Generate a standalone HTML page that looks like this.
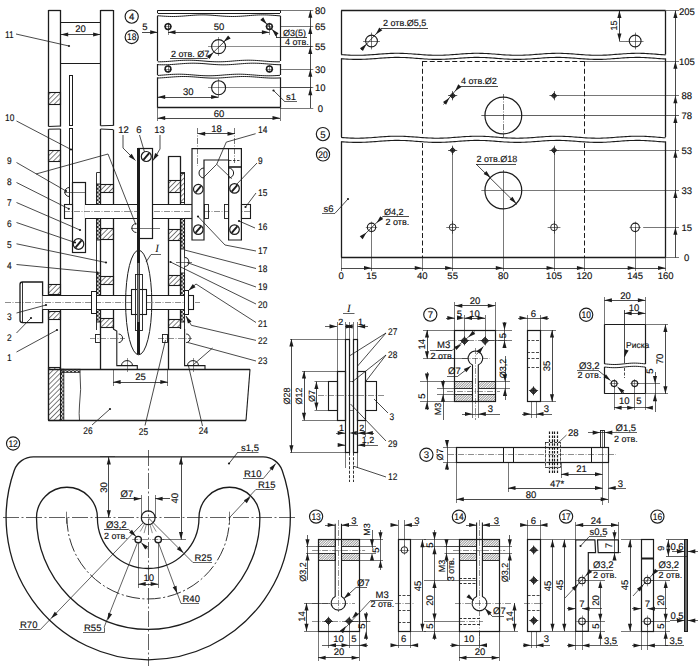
<!DOCTYPE html>
<html><head><meta charset="utf-8"><style>
html,body{margin:0;padding:0;background:#fff;}
svg{display:block;font-family:"Liberation Sans",sans-serif;text-rendering:geometricPrecision;}
</style></head><body>
<svg width="700" height="668" viewBox="0 0 700 668">
<defs>
<pattern id="hat" patternUnits="userSpaceOnUse" width="3.6" height="3.6" patternTransform="rotate(45)"><line x1="0" y1="0" x2="0" y2="3.6" stroke="#2a2a2a" stroke-width="1.2"/></pattern>
<pattern id="hat2" patternUnits="userSpaceOnUse" width="1.75" height="1.75" patternTransform="rotate(45)"><line x1="0" y1="0" x2="0" y2="1.75" stroke="#2a2a2a" stroke-width="0.85"/></pattern>
<pattern id="kn" patternUnits="userSpaceOnUse" width="2.6" height="2.6"><rect x="0.3" y="0.3" width="1.3" height="1.3" fill="#1c1c1c"/></pattern>
</defs>
<rect width="700" height="668" fill="#fff"/>
<line x1="48.5" y1="10" x2="48.5" y2="126.5" stroke="#1c1c1c" stroke-width="1.3"/>
<line x1="60.5" y1="10" x2="60.5" y2="126.5" stroke="#1c1c1c" stroke-width="1.3"/>
<line x1="48.5" y1="10.5" x2="60.7" y2="10.5" stroke="#1c1c1c" stroke-width="1.3"/>
<line x1="48.5" y1="126.5" x2="60.7" y2="126" stroke="#1c1c1c" stroke-width="1.0"/>
<line x1="48.5" y1="129.2" x2="60.7" y2="129" stroke="#1c1c1c" stroke-width="1.0"/>
<line x1="48.5" y1="129.2" x2="48.5" y2="420" stroke="#1c1c1c" stroke-width="1.3"/>
<line x1="60.5" y1="129" x2="60.5" y2="369.3" stroke="#1c1c1c" stroke-width="1.3"/>
<rect x="48.5" y="92.5" width="12" height="12" fill="url(#hat)" stroke="#1c1c1c" stroke-width="1.1"/>
<rect x="48.5" y="150.5" width="12" height="11" fill="url(#hat)" stroke="#1c1c1c" stroke-width="1.1"/>
<rect x="48.5" y="284.5" width="12" height="10" fill="url(#hat)" stroke="#1c1c1c" stroke-width="1.1"/>
<rect x="48.5" y="311.5" width="12" height="8" fill="url(#hat)" stroke="#1c1c1c" stroke-width="1.1"/>
<line x1="100.5" y1="10" x2="100.5" y2="125.8" stroke="#1c1c1c" stroke-width="1.3"/>
<line x1="113.5" y1="10" x2="113.5" y2="125.8" stroke="#1c1c1c" stroke-width="1.3"/>
<line x1="100.6" y1="10.5" x2="113.1" y2="10.5" stroke="#1c1c1c" stroke-width="1.3"/>
<line x1="100.6" y1="125.8" x2="113.1" y2="125.4" stroke="#1c1c1c" stroke-width="1.0"/>
<line x1="100.6" y1="129" x2="113.1" y2="129.6" stroke="#1c1c1c" stroke-width="1.0"/>
<line x1="100.5" y1="129" x2="100.5" y2="369.3" stroke="#1c1c1c" stroke-width="1.3"/>
<line x1="113.5" y1="129.6" x2="113.5" y2="329" stroke="#1c1c1c" stroke-width="1.3"/>
<rect x="100.5" y="184.5" width="13" height="8" fill="url(#hat)" stroke="#1c1c1c" stroke-width="1.1"/>
<rect x="100.5" y="228.5" width="13" height="11" fill="url(#hat)" stroke="#1c1c1c" stroke-width="1.1"/>
<rect x="100.5" y="276.5" width="13" height="8" fill="url(#hat)" stroke="#1c1c1c" stroke-width="1.1"/>
<rect x="100.5" y="318.5" width="13" height="9" fill="url(#hat)" stroke="#1c1c1c" stroke-width="1.1"/>
<line x1="60.7" y1="22.5" x2="100.6" y2="22.5" stroke="#1c1c1c" stroke-width="1.2"/>
<line x1="60.7" y1="63.5" x2="100.6" y2="63.5" stroke="#1c1c1c" stroke-width="1.2"/>
<line x1="60.7" y1="34.5" x2="100.6" y2="34.5" stroke="#1c1c1c" stroke-width="0.8"/>
<polygon points="60.7,34.5 68.2,32.45 68.2,36.55" fill="#1c1c1c"/>
<polygon points="100.6,34.5 93.1,36.55 93.1,32.45" fill="#1c1c1c"/>
<text x="0" y="0" font-size="9.5" text-anchor="middle" fill="#111" stroke="#111" stroke-width="0.15" transform="translate(80.5 32)">20</text>
<text x="0" y="0" font-size="9.7" text-anchor="start" fill="#111" stroke="#111" stroke-width="0.15" transform="translate(5 37.5) scale(0.86 1)">11</text>
<polyline points="16,34 69,46" fill="none" stroke="#1c1c1c" stroke-width="0.8"/>
<circle cx="69" cy="46" r="1.1" fill="#1c1c1c"/>
<rect x="69.5" y="75.5" width="3" height="50" fill="none" stroke="#1c1c1c" stroke-width="1.0"/>
<rect x="69.5" y="128.5" width="3" height="77" fill="none" stroke="#1c1c1c" stroke-width="1.0"/>
<text x="0" y="0" font-size="9.7" text-anchor="start" fill="#111" stroke="#111" stroke-width="0.15" transform="translate(5 120.5) scale(0.86 1)">10</text>
<polyline points="16.5,121 71,149.5" fill="none" stroke="#1c1c1c" stroke-width="0.8"/>
<circle cx="71" cy="149.5" r="1.1" fill="#1c1c1c"/>
<line x1="96.5" y1="172.5" x2="96.5" y2="330" stroke="#1c1c1c" stroke-width="0.9"/>
<rect x="96.7" y="184" width="3.8" height="20.5" fill="none" stroke="#1c1c1c" stroke-width="0.9"/>
<path d="M96.7,184h1.9v1.9h-1.9zM98.6,185.9h1.9v1.9h-1.9zM96.7,187.8h1.9v1.9h-1.9zM98.6,189.7h1.9v1.9h-1.9zM96.7,191.6h1.9v1.9h-1.9zM98.6,193.5h1.9v1.9h-1.9zM96.7,195.4h1.9v1.9h-1.9zM98.6,197.3h1.9v1.9h-1.9zM96.7,199.2h1.9v1.9h-1.9zM98.6,201.1h1.9v1.9h-1.9zM96.7,203h1.9v1.5h-1.9z" fill="#2a2a2a"/>
<rect x="96.7" y="218.5" width="3.8" height="21.5" fill="none" stroke="#1c1c1c" stroke-width="0.9"/>
<path d="M96.7,218.5h1.9v1.9h-1.9zM98.6,220.4h1.9v1.9h-1.9zM96.7,222.3h1.9v1.9h-1.9zM98.6,224.2h1.9v1.9h-1.9zM96.7,226.1h1.9v1.9h-1.9zM98.6,228h1.9v1.9h-1.9zM96.7,229.9h1.9v1.9h-1.9zM98.6,231.8h1.9v1.9h-1.9zM96.7,233.7h1.9v1.9h-1.9zM98.6,235.6h1.9v1.9h-1.9zM96.7,237.5h1.9v1.9h-1.9zM98.6,239.4h1.9v0.6h-1.9z" fill="#2a2a2a"/>
<line x1="96.7" y1="172.5" x2="100.6" y2="172.5" stroke="#1c1c1c" stroke-width="0.9"/>
<rect x="96.7" y="273" width="3.8" height="49" fill="none" stroke="#1c1c1c" stroke-width="0.9"/>
<path d="M96.7,273h1.9v1.9h-1.9zM98.6,274.9h1.9v1.9h-1.9zM96.7,276.8h1.9v1.9h-1.9zM98.6,278.7h1.9v1.9h-1.9zM96.7,280.6h1.9v1.9h-1.9zM98.6,282.5h1.9v1.9h-1.9zM96.7,284.4h1.9v1.9h-1.9zM98.6,286.3h1.9v1.9h-1.9zM96.7,288.2h1.9v1.9h-1.9zM98.6,290.1h1.9v1.9h-1.9zM96.7,292h1.9v1.9h-1.9zM98.6,293.9h1.9v1.9h-1.9zM96.7,295.8h1.9v1.9h-1.9zM98.6,297.7h1.9v1.9h-1.9zM96.7,299.6h1.9v1.9h-1.9zM98.6,301.5h1.9v1.9h-1.9zM96.7,303.4h1.9v1.9h-1.9zM98.6,305.3h1.9v1.9h-1.9zM96.7,307.2h1.9v1.9h-1.9zM98.6,309.1h1.9v1.9h-1.9zM96.7,311h1.9v1.9h-1.9zM98.6,312.9h1.9v1.9h-1.9zM96.7,314.8h1.9v1.9h-1.9zM98.6,316.7h1.9v1.9h-1.9zM96.7,318.6h1.9v1.9h-1.9zM98.6,320.5h1.9v1.5h-1.9z" fill="#2a2a2a"/>
<rect x="72.5" y="182.5" width="13" height="70" fill="#fff" stroke="#1c1c1c" stroke-width="1.2"/>
<rect x="64.5" y="204.5" width="8" height="14" fill="#fff" stroke="#1c1c1c" stroke-width="1.1"/>
<circle cx="78.5" cy="244" r="5.3" fill="#fff" stroke="#1c1c1c" stroke-width="1.2"/>
<line x1="75.43" y1="247.65" x2="81.57" y2="240.35" stroke="#1c1c1c" stroke-width="1.9"/>
<path d="M69.3,187.5 A4.5,4.5 0 0 0 69.3,196.5" fill="none" stroke="#1c1c1c" stroke-width="1.0"/>
<line x1="64" y1="192.5" x2="85" y2="192.5" stroke="#1c1c1c" stroke-width="0.6"/>
<line x1="168.2" y1="156.5" x2="180.8" y2="156.5" stroke="#1c1c1c" stroke-width="1.2"/>
<line x1="168.5" y1="156.3" x2="168.5" y2="369.3" stroke="#1c1c1c" stroke-width="1.3"/>
<line x1="180.5" y1="156.3" x2="180.5" y2="329" stroke="#1c1c1c" stroke-width="1.3"/>
<rect x="168.5" y="180.5" width="12" height="12" fill="url(#hat)" stroke="#1c1c1c" stroke-width="1.1"/>
<rect x="168.5" y="229.5" width="12" height="11" fill="url(#hat)" stroke="#1c1c1c" stroke-width="1.1"/>
<rect x="168.5" y="275.5" width="12" height="10" fill="url(#hat)" stroke="#1c1c1c" stroke-width="1.1"/>
<rect x="168.5" y="319.5" width="12" height="8" fill="url(#hat)" stroke="#1c1c1c" stroke-width="1.1"/>
<line x1="180.9" y1="172.5" x2="185" y2="172.5" stroke="#1c1c1c" stroke-width="0.9"/>
<rect x="180.5" y="173.5" width="4" height="29" fill="url(#hat)" stroke="#1c1c1c" stroke-width="0.9"/>
<rect x="180.8" y="218" width="3.8" height="31" fill="none" stroke="#1c1c1c" stroke-width="0.9"/>
<path d="M180.8,218h1.9v1.9h-1.9zM182.7,219.9h1.9v1.9h-1.9zM180.8,221.8h1.9v1.9h-1.9zM182.7,223.7h1.9v1.9h-1.9zM180.8,225.6h1.9v1.9h-1.9zM182.7,227.5h1.9v1.9h-1.9zM180.8,229.4h1.9v1.9h-1.9zM182.7,231.3h1.9v1.9h-1.9zM180.8,233.2h1.9v1.9h-1.9zM182.7,235.1h1.9v1.9h-1.9zM180.8,237h1.9v1.9h-1.9zM182.7,238.9h1.9v1.9h-1.9zM180.8,240.8h1.9v1.9h-1.9zM182.7,242.7h1.9v1.9h-1.9zM180.8,244.6h1.9v1.9h-1.9zM182.7,246.5h1.9v1.9h-1.9zM180.8,248.4h1.9v0.6h-1.9z" fill="#2a2a2a"/>
<rect x="180.8" y="273" width="3.8" height="49" fill="none" stroke="#1c1c1c" stroke-width="0.9"/>
<path d="M180.8,273h1.9v1.9h-1.9zM182.7,274.9h1.9v1.9h-1.9zM180.8,276.8h1.9v1.9h-1.9zM182.7,278.7h1.9v1.9h-1.9zM180.8,280.6h1.9v1.9h-1.9zM182.7,282.5h1.9v1.9h-1.9zM180.8,284.4h1.9v1.9h-1.9zM182.7,286.3h1.9v1.9h-1.9zM180.8,288.2h1.9v1.9h-1.9zM182.7,290.1h1.9v1.9h-1.9zM180.8,292h1.9v1.9h-1.9zM182.7,293.9h1.9v1.9h-1.9zM180.8,295.8h1.9v1.9h-1.9zM182.7,297.7h1.9v1.9h-1.9zM180.8,299.6h1.9v1.9h-1.9zM182.7,301.5h1.9v1.9h-1.9zM180.8,303.4h1.9v1.9h-1.9zM182.7,305.3h1.9v1.9h-1.9zM180.8,307.2h1.9v1.9h-1.9zM182.7,309.1h1.9v1.9h-1.9zM180.8,311h1.9v1.9h-1.9zM182.7,312.9h1.9v1.9h-1.9zM180.8,314.8h1.9v1.9h-1.9zM182.7,316.7h1.9v1.9h-1.9zM180.8,318.6h1.9v1.9h-1.9zM182.7,320.5h1.9v1.5h-1.9z" fill="#2a2a2a"/>
<line x1="184.5" y1="172.5" x2="184.5" y2="330" stroke="#1c1c1c" stroke-width="0.9"/>
<rect x="85" y="204.5" width="107" height="14" fill="#fff" stroke="none"/>
<line x1="85" y1="204.5" x2="192" y2="204.5" stroke="#1c1c1c" stroke-width="1.2"/>
<line x1="85" y1="218.5" x2="192" y2="218.5" stroke="#1c1c1c" stroke-width="1.2"/>
<line x1="64" y1="211.5" x2="250" y2="211.5" stroke="#1c1c1c" stroke-width="0.5" stroke-dasharray="6 1.5 1 1.5"/>
<rect x="138.5" y="148.5" width="14" height="90" fill="#fff" stroke="#1c1c1c" stroke-width="1.2"/>
<circle cx="146.3" cy="156.5" r="5" fill="#fff" stroke="#1c1c1c" stroke-width="1.2"/>
<line x1="143.41" y1="159.95" x2="149.19" y2="153.05" stroke="#1c1c1c" stroke-width="1.9"/>
<rect x="137" y="148" width="3" height="142" fill="#1c1c1c"/>
<path d="M136.4,223.5 A4.5,4.5 0 0 0 136.4,232.5" fill="none" stroke="#1c1c1c" stroke-width="1.0"/>
<line x1="131" y1="228.5" x2="160" y2="228.5" stroke="#1c1c1c" stroke-width="0.6"/>
<path d="M192,240 L192,148.6 L241.4,148.6 L241.4,240 L228.6,240 L228.6,160 L204,160 L204,240 Z" fill="#fff" stroke="#1c1c1c" stroke-width="1.2"/>
<line x1="228.5" y1="148.6" x2="228.5" y2="160" stroke="#1c1c1c" stroke-width="0.9"/>
<line x1="229" y1="160.5" x2="241" y2="160.5" stroke="#1c1c1c" stroke-width="0.8" stroke-dasharray="2.5 1.5"/>
<circle cx="198.3" cy="189.2" r="4.8" fill="#fff" stroke="#1c1c1c" stroke-width="1.2"/>
<line x1="195.52" y1="192.51" x2="201.08" y2="185.89" stroke="#1c1c1c" stroke-width="1.9"/>
<circle cx="198.3" cy="229.6" r="4.8" fill="#fff" stroke="#1c1c1c" stroke-width="1.2"/>
<line x1="195.52" y1="232.91" x2="201.08" y2="226.29" stroke="#1c1c1c" stroke-width="1.9"/>
<circle cx="234.5" cy="188.4" r="4.8" fill="#fff" stroke="#1c1c1c" stroke-width="1.2"/>
<line x1="231.72" y1="191.71" x2="237.28" y2="185.09" stroke="#1c1c1c" stroke-width="1.9"/>
<circle cx="234.5" cy="229.6" r="4.8" fill="#fff" stroke="#1c1c1c" stroke-width="1.2"/>
<line x1="231.72" y1="232.91" x2="237.28" y2="226.29" stroke="#1c1c1c" stroke-width="1.9"/>
<path d="M204,168 A5,5 0 0 0 204,178" fill="none" stroke="#1c1c1c" stroke-width="1.0"/>
<path d="M228.6,168 A5,5 0 0 1 228.6,178" fill="none" stroke="#1c1c1c" stroke-width="1.0"/>
<rect x="204.5" y="204.5" width="4" height="14" fill="none" stroke="#1c1c1c" stroke-width="0.9"/>
<rect x="224.5" y="204.5" width="4" height="14" fill="none" stroke="#1c1c1c" stroke-width="0.9"/>
<rect x="241.5" y="204.5" width="9" height="14" fill="none" stroke="#1c1c1c" stroke-width="1.1"/>
<line x1="185" y1="204.5" x2="192" y2="204.5" stroke="#1c1c1c" stroke-width="1.1"/>
<line x1="185" y1="218.5" x2="192" y2="218.5" stroke="#1c1c1c" stroke-width="1.1"/>
<line x1="197.5" y1="128" x2="197.5" y2="166" stroke="#1c1c1c" stroke-width="0.6" stroke-dasharray="6 1.5 1 1.5"/>
<line x1="234.5" y1="128" x2="234.5" y2="163" stroke="#1c1c1c" stroke-width="0.6" stroke-dasharray="6 1.5 1 1.5"/>
<line x1="228.6" y1="166.5" x2="241.4" y2="166.5" stroke="#1c1c1c" stroke-width="0.8"/>
<line x1="228.6" y1="167.5" x2="241.4" y2="167.5" stroke="#1c1c1c" stroke-width="0.8"/>
<line x1="197.7" y1="133.5" x2="235" y2="133.5" stroke="#1c1c1c" stroke-width="0.8"/>
<polygon points="197.7,133.7 205.2,131.65 205.2,135.75" fill="#1c1c1c"/>
<polygon points="235,133.7 227.5,135.75 227.5,131.65" fill="#1c1c1c"/>
<text x="0" y="0" font-size="9.5" text-anchor="middle" fill="#111" stroke="#111" stroke-width="0.15" transform="translate(216.5 131.5)">18</text>
<path d="M42.6,282 L22.5,282 Q20,282 20,284.5 L20,320 Q20,322.6 22.5,322.6 L42.6,322.6 Z" fill="#fff" stroke="#1c1c1c" stroke-width="1.3"/>
<line x1="22.5" y1="282" x2="22.5" y2="322.6" stroke="#1c1c1c" stroke-width="0.9"/>
<rect x="42.5" y="295.5" width="145.5" height="14" fill="#fff" stroke="none"/>
<line x1="42.5" y1="295.5" x2="188" y2="295.5" stroke="#1c1c1c" stroke-width="1.2"/>
<line x1="42.5" y1="309.5" x2="188" y2="309.5" stroke="#1c1c1c" stroke-width="1.2"/>
<line x1="5" y1="302.5" x2="200" y2="302.5" stroke="#1c1c1c" stroke-width="0.5" stroke-dasharray="6 1.5 1 1.5"/>
<rect x="91.5" y="291.5" width="5" height="22" fill="#fff" stroke="#1c1c1c" stroke-width="1.0"/>
<rect x="184.5" y="290.5" width="4" height="24" fill="#fff" stroke="#1c1c1c" stroke-width="1.0"/>
<rect x="188.5" y="295.5" width="5" height="14" fill="#fff" stroke="#1c1c1c" stroke-width="1.1"/>
<ellipse cx="138.7" cy="302.5" rx="13.1" ry="52.3" fill="none" stroke="#1c1c1c" stroke-width="1.0"/>
<rect x="131.5" y="289.5" width="15" height="25" fill="#fff" stroke="#1c1c1c" stroke-width="1.1"/>
<rect x="137" y="250.5" width="3" height="104" fill="#1c1c1c"/>
<rect x="137.6" y="263" width="1.7" height="59" fill="#8a8a8a"/>
<rect x="135.5" y="274.5" width="7" height="56" fill="none" stroke="#1c1c1c" stroke-width="0.9"/>
<path d="M184.6,257.5 A4.3,4.5 0 0 1 184.6,266.5" fill="#fff" stroke="#1c1c1c" stroke-width="1.1"/>
<line x1="176" y1="262.5" x2="192" y2="262.5" stroke="#1c1c1c" stroke-width="0.6"/>
<path d="M113.1,329 L116.8,331 L116.8,365.6 L137.3,365.6 L137.3,369.3" fill="none" stroke="#1c1c1c" stroke-width="1.1"/>
<path d="M184.6,329 L184.6,365.6 L205,365.6 L205,369.3" fill="none" stroke="#1c1c1c" stroke-width="1.1"/>
<rect x="95.5" y="334.5" width="5" height="8" fill="none" stroke="#1c1c1c" stroke-width="0.9"/>
<path d="M118.6,334 A4,4.3 0 0 1 118.6,342.6" fill="none" stroke="#1c1c1c" stroke-width="1.0"/>
<rect x="162.5" y="334.5" width="5" height="8" fill="none" stroke="#1c1c1c" stroke-width="0.9"/>
<path d="M186.2,334 A4,4.3 0 0 1 186.2,342.6" fill="none" stroke="#1c1c1c" stroke-width="1.0"/>
<line x1="90" y1="338.5" x2="125" y2="338.5" stroke="#1c1c1c" stroke-width="0.5" stroke-dasharray="6 1.5 1 1.5"/>
<line x1="158" y1="338.5" x2="192" y2="338.5" stroke="#1c1c1c" stroke-width="0.5" stroke-dasharray="6 1.5 1 1.5"/>
<path d="M121.5,365.6 A5.5,5 0 0 1 132.5,365.6" fill="none" stroke="#1c1c1c" stroke-width="1.0"/>
<path d="M187.5,365.6 A5.5,5 0 0 1 198.5,365.6" fill="none" stroke="#1c1c1c" stroke-width="1.0"/>
<line x1="127.5" y1="358" x2="127.5" y2="372" stroke="#1c1c1c" stroke-width="0.5"/>
<line x1="193.5" y1="358" x2="193.5" y2="372" stroke="#1c1c1c" stroke-width="0.5"/>
<line x1="48.5" y1="369.5" x2="250" y2="369.5" stroke="#1c1c1c" stroke-width="1.3"/>
<line x1="48.5" y1="420.5" x2="246" y2="420.5" stroke="#1c1c1c" stroke-width="1.3"/>
<line x1="250" y1="369.3" x2="246" y2="420.5" stroke="#1c1c1c" stroke-width="1.1"/>
<rect x="48.5" y="367.5" width="12" height="53" fill="url(#hat)" stroke="#1c1c1c" stroke-width="1.1"/>
<rect x="60.7" y="369.3" width="3.1" height="51.2" fill="none" stroke="#1c1c1c" stroke-width="0.9"/>
<path d="M60.7,369.3h1.55v1.9h-1.55zM62.25,371.2h1.55v1.9h-1.55zM60.7,373.1h1.55v1.9h-1.55zM62.25,375h1.55v1.9h-1.55zM60.7,376.9h1.55v1.9h-1.55zM62.25,378.8h1.55v1.9h-1.55zM60.7,380.7h1.55v1.9h-1.55zM62.25,382.6h1.55v1.9h-1.55zM60.7,384.5h1.55v1.9h-1.55zM62.25,386.4h1.55v1.9h-1.55zM60.7,388.3h1.55v1.9h-1.55zM62.25,390.2h1.55v1.9h-1.55zM60.7,392.1h1.55v1.9h-1.55zM62.25,394h1.55v1.9h-1.55zM60.7,395.9h1.55v1.9h-1.55zM62.25,397.8h1.55v1.9h-1.55zM60.7,399.7h1.55v1.9h-1.55zM62.25,401.6h1.55v1.9h-1.55zM60.7,403.5h1.55v1.9h-1.55zM62.25,405.4h1.55v1.9h-1.55zM60.7,407.3h1.55v1.9h-1.55zM62.25,409.2h1.55v1.9h-1.55zM60.7,411.1h1.55v1.9h-1.55zM62.25,413h1.55v1.9h-1.55zM60.7,414.9h1.55v1.9h-1.55zM62.25,416.8h1.55v1.9h-1.55zM60.7,418.7h1.55v1.8h-1.55z" fill="#2a2a2a"/>
<rect x="60.7" y="369.3" width="19.3" height="3" fill="none" stroke="#1c1c1c" stroke-width="0.9"/>
<path d="M60.7,369.3h1.9v1.5h-1.9zM62.6,370.8h1.9v1.5h-1.9zM64.5,369.3h1.9v1.5h-1.9zM66.4,370.8h1.9v1.5h-1.9zM68.3,369.3h1.9v1.5h-1.9zM70.2,370.8h1.9v1.5h-1.9zM72.1,369.3h1.9v1.5h-1.9zM74,370.8h1.9v1.5h-1.9zM75.9,369.3h1.9v1.5h-1.9zM77.8,370.8h1.9v1.5h-1.9z" fill="#2a2a2a"/>
<path d="M80,372.5 Q81.5,390 79.5,405 Q78.8,414 79.5,420.5" fill="none" stroke="#1c1c1c" stroke-width="0.8"/>
<line x1="113.5" y1="369.3" x2="113.5" y2="386" stroke="#1c1c1c" stroke-width="0.6"/>
<line x1="167.5" y1="369.3" x2="167.5" y2="386" stroke="#1c1c1c" stroke-width="0.6"/>
<line x1="113.1" y1="382.5" x2="167.8" y2="382.5" stroke="#1c1c1c" stroke-width="0.8"/>
<polygon points="113.1,382 120.6,379.95 120.6,384.05" fill="#1c1c1c"/>
<polygon points="167.8,382 160.3,384.05 160.3,379.95" fill="#1c1c1c"/>
<text x="0" y="0" font-size="9.5" text-anchor="middle" fill="#111" stroke="#111" stroke-width="0.15" transform="translate(140.5 380)">25</text>
<text x="0" y="0" font-size="9.7" text-anchor="start" fill="#111" stroke="#111" stroke-width="0.15" transform="translate(7 164) scale(0.86 1)">9</text>
<polyline points="16.5,162.5 66,191" fill="none" stroke="#1c1c1c" stroke-width="0.8"/>
<circle cx="66" cy="191" r="1.1" fill="#1c1c1c"/>
<text x="0" y="0" font-size="9.7" text-anchor="start" fill="#111" stroke="#111" stroke-width="0.15" transform="translate(7 185) scale(0.86 1)">8</text>
<polyline points="16.5,182.5 68.8,208.8" fill="none" stroke="#1c1c1c" stroke-width="0.8"/>
<circle cx="68.8" cy="208.8" r="1.1" fill="#1c1c1c"/>
<text x="0" y="0" font-size="9.7" text-anchor="start" fill="#111" stroke="#111" stroke-width="0.15" transform="translate(7 206) scale(0.86 1)">7</text>
<polyline points="16.5,202.5 80,230" fill="none" stroke="#1c1c1c" stroke-width="0.8"/>
<circle cx="80" cy="230" r="1.1" fill="#1c1c1c"/>
<text x="0" y="0" font-size="9.7" text-anchor="start" fill="#111" stroke="#111" stroke-width="0.15" transform="translate(7 227) scale(0.86 1)">6</text>
<polyline points="16.5,222.5 75,242.5" fill="none" stroke="#1c1c1c" stroke-width="0.8"/>
<circle cx="75" cy="242.5" r="1.1" fill="#1c1c1c"/>
<text x="0" y="0" font-size="9.7" text-anchor="start" fill="#111" stroke="#111" stroke-width="0.15" transform="translate(7 247.5) scale(0.86 1)">5</text>
<polyline points="16.5,243.8 106,262.5" fill="none" stroke="#1c1c1c" stroke-width="0.8"/>
<circle cx="106" cy="262.5" r="1.1" fill="#1c1c1c"/>
<text x="0" y="0" font-size="9.7" text-anchor="start" fill="#111" stroke="#111" stroke-width="0.15" transform="translate(7 269) scale(0.86 1)">4</text>
<polyline points="16.5,264.5 97.5,272.5" fill="none" stroke="#1c1c1c" stroke-width="0.8"/>
<circle cx="97.5" cy="272.5" r="1.1" fill="#1c1c1c"/>
<text x="0" y="0" font-size="9.7" text-anchor="start" fill="#111" stroke="#111" stroke-width="0.15" transform="translate(7 319.5) scale(0.86 1)">3</text>
<polyline points="16.5,313 46,305" fill="none" stroke="#1c1c1c" stroke-width="0.8"/>
<circle cx="46" cy="305" r="1.1" fill="#1c1c1c"/>
<text x="0" y="0" font-size="9.7" text-anchor="start" fill="#111" stroke="#111" stroke-width="0.15" transform="translate(7 340.5) scale(0.86 1)">2</text>
<polyline points="16.5,333 31,318" fill="none" stroke="#1c1c1c" stroke-width="0.8"/>
<circle cx="31" cy="318" r="1.1" fill="#1c1c1c"/>
<text x="0" y="0" font-size="9.7" text-anchor="start" fill="#111" stroke="#111" stroke-width="0.15" transform="translate(7 360.5) scale(0.86 1)">1</text>
<polyline points="16.5,352 57,330" fill="none" stroke="#1c1c1c" stroke-width="0.8"/>
<circle cx="57" cy="330" r="1.1" fill="#1c1c1c"/>
<polyline points="36,174 108,154 136,225" fill="none" stroke="#1c1c1c" stroke-width="0.8"/>
<text x="0" y="0" font-size="9.5" text-anchor="middle" fill="#111" stroke="#111" stroke-width="0.15" transform="translate(123.5 132.6)">12</text>
<text x="0" y="0" font-size="9.5" text-anchor="middle" fill="#111" stroke="#111" stroke-width="0.15" transform="translate(139 132.6)">6</text>
<text x="0" y="0" font-size="9.5" text-anchor="middle" fill="#111" stroke="#111" stroke-width="0.15" transform="translate(159.5 132.6)">13</text>
<polyline points="123,135 123,148 135.5,160.5" fill="none" stroke="#1c1c1c" stroke-width="0.8"/>
<polygon points="135.5,160.5 128.75,156.65 131.65,153.75" fill="#1c1c1c"/>
<polyline points="160,135 160,149 153,160.5" fill="none" stroke="#1c1c1c" stroke-width="0.8"/>
<polygon points="153,160.5 155.15,153.03 158.65,155.16" fill="#1c1c1c"/>
<polyline points="139.5,135 144.5,152" fill="none" stroke="#1c1c1c" stroke-width="0.8"/>
<text x="0" y="0" font-size="11" text-anchor="middle" fill="#111" stroke="#111" stroke-width="0" transform="translate(157.2 252)" font-style="italic" font-family="Liberation Serif">I</text>
<line x1="151" y1="254.5" x2="161" y2="254.5" stroke="#1c1c1c" stroke-width="0.7"/>
<polyline points="151,254.5 146,262" fill="none" stroke="#1c1c1c" stroke-width="0.8"/>
<text x="0" y="0" font-size="9.7" text-anchor="start" fill="#111" stroke="#111" stroke-width="0.15" transform="translate(258 132.6) scale(0.86 1)">14</text>
<text x="0" y="0" font-size="9.7" text-anchor="start" fill="#111" stroke="#111" stroke-width="0.15" transform="translate(258 164) scale(0.86 1)">9</text>
<text x="0" y="0" font-size="9.7" text-anchor="start" fill="#111" stroke="#111" stroke-width="0.15" transform="translate(258 196) scale(0.86 1)">15</text>
<text x="0" y="0" font-size="9.7" text-anchor="start" fill="#111" stroke="#111" stroke-width="0.15" transform="translate(258 230) scale(0.86 1)">16</text>
<text x="0" y="0" font-size="9.7" text-anchor="start" fill="#111" stroke="#111" stroke-width="0.15" transform="translate(258 254) scale(0.86 1)">17</text>
<text x="0" y="0" font-size="9.7" text-anchor="start" fill="#111" stroke="#111" stroke-width="0.15" transform="translate(258 272) scale(0.86 1)">18</text>
<text x="0" y="0" font-size="9.7" text-anchor="start" fill="#111" stroke="#111" stroke-width="0.15" transform="translate(258 290) scale(0.86 1)">19</text>
<text x="0" y="0" font-size="9.7" text-anchor="start" fill="#111" stroke="#111" stroke-width="0.15" transform="translate(258 308.3) scale(0.86 1)">20</text>
<text x="0" y="0" font-size="9.7" text-anchor="start" fill="#111" stroke="#111" stroke-width="0.15" transform="translate(258 326.7) scale(0.86 1)">21</text>
<text x="0" y="0" font-size="9.7" text-anchor="start" fill="#111" stroke="#111" stroke-width="0.15" transform="translate(258 344.4) scale(0.86 1)">22</text>
<text x="0" y="0" font-size="9.7" text-anchor="start" fill="#111" stroke="#111" stroke-width="0.15" transform="translate(258 364.3) scale(0.86 1)">23</text>
<polyline points="255.6,133.7 226.3,142.1 216.7,164.3 203.5,177.5" fill="none" stroke="#1c1c1c" stroke-width="0.8"/>
<polyline points="216.7,164.3 231.7,178.7" fill="none" stroke="#1c1c1c" stroke-width="0.8"/>
<polyline points="257,163 236,185" fill="none" stroke="#1c1c1c" stroke-width="0.8"/>
<polyline points="256,193 245.5,207" fill="none" stroke="#1c1c1c" stroke-width="0.8"/>
<circle cx="245.5" cy="207" r="1.1" fill="#1c1c1c"/>
<polyline points="255,228 239,221" fill="none" stroke="#1c1c1c" stroke-width="0.8"/>
<circle cx="239" cy="221" r="1.1" fill="#1c1c1c"/>
<polyline points="256,251 225,245 198,216.5" fill="none" stroke="#1c1c1c" stroke-width="0.8"/>
<circle cx="198" cy="216.5" r="1.1" fill="#1c1c1c"/>
<polyline points="256,268.5 184.6,250" fill="none" stroke="#1c1c1c" stroke-width="0.8"/>
<polyline points="256,287 187,262.5" fill="none" stroke="#1c1c1c" stroke-width="0.8"/>
<polyline points="256,304 170.5,262" fill="none" stroke="#1c1c1c" stroke-width="0.8"/>
<circle cx="170.5" cy="262" r="1.1" fill="#1c1c1c"/>
<polyline points="256,322.5 196,284 188.5,290.5" fill="none" stroke="#1c1c1c" stroke-width="0.8"/>
<polygon points="188.5,290.5 192.83,284.04 195.51,287.14" fill="#1c1c1c"/>
<polyline points="256,340.4 191.3,325.3 186,316" fill="none" stroke="#1c1c1c" stroke-width="0.8"/>
<polygon points="186,316 191.49,321.5 187.93,323.53" fill="#1c1c1c"/>
<polyline points="256,361 187.5,342.4" fill="none" stroke="#1c1c1c" stroke-width="0.8"/>
<polyline points="212.6,348 193,365" fill="none" stroke="#1c1c1c" stroke-width="0.8"/>
<text x="0" y="0" font-size="9.7" text-anchor="middle" fill="#111" stroke="#111" stroke-width="0.15" transform="translate(203.5 434) scale(0.86 1)">24</text>
<polyline points="202.5,426 188.5,366" fill="none" stroke="#1c1c1c" stroke-width="0.8"/>
<text x="0" y="0" font-size="9.7" text-anchor="middle" fill="#111" stroke="#111" stroke-width="0.15" transform="translate(143.5 435) scale(0.86 1)">25</text>
<polyline points="145,425.5 165.5,340" fill="none" stroke="#1c1c1c" stroke-width="0.8"/>
<text x="0" y="0" font-size="9.7" text-anchor="middle" fill="#111" stroke="#111" stroke-width="0.15" transform="translate(88 434) scale(0.86 1)">26</text>
<polyline points="92,425 110,409" fill="none" stroke="#1c1c1c" stroke-width="0.8"/>
<circle cx="110" cy="409" r="1.1" fill="#1c1c1c"/>
<circle cx="131.7" cy="16.6" r="6.6" fill="none" stroke="#1c1c1c" stroke-width="1.15"/>
<text x="0" y="0" font-size="9.6" text-anchor="middle" fill="#111" stroke="#111" stroke-width="0.15" transform="translate(131.7 20.01) scale(1.0 1)">4</text>
<circle cx="131.7" cy="37" r="6.6" fill="none" stroke="#1c1c1c" stroke-width="1.15"/>
<text x="0" y="0" font-size="9.6" text-anchor="middle" fill="#111" stroke="#111" stroke-width="0.15" transform="translate(131.7 40.41) scale(0.88 1)">18</text>
<line x1="157.7" y1="10.5" x2="280" y2="10.5" stroke="#1c1c1c" stroke-width="1.2"/>
<line x1="157.7" y1="13.5" x2="280" y2="13.5" stroke="#1c1c1c" stroke-width="1.0"/>
<line x1="157.5" y1="10.3" x2="157.5" y2="13" stroke="#1c1c1c" stroke-width="1.0"/>
<line x1="280.5" y1="10.3" x2="280.5" y2="13" stroke="#1c1c1c" stroke-width="1.0"/>
<polyline points="157.7,15.7 159.67,15.86 161.65,16.02 163.62,16.16 165.59,16.29 167.56,16.39 169.54,16.46 171.51,16.49 173.48,16.5 175.45,16.47 177.43,16.4 179.4,16.31 181.37,16.19 183.34,16.05 185.32,15.9 187.29,15.73 189.26,15.57 191.23,15.41 193.21,15.26 195.18,15.14 197.15,15.03 199.12,14.96 201.1,14.91 203.07,14.9 205.04,14.92 207.01,14.98 208.99,15.07 210.96,15.18 212.93,15.32 214.9,15.47 216.88,15.63 218.85,15.8 220.82,15.96 222.8,16.11 224.77,16.24 226.74,16.35 228.71,16.43 230.69,16.48 232.66,16.5 234.63,16.48 236.6,16.43 238.58,16.35 240.55,16.24 242.52,16.11 244.49,15.96 246.47,15.8 248.44,15.64 250.41,15.48 252.38,15.32 254.36,15.19 256.33,15.07 258.3,14.98 260.27,14.93 262.25,14.9 264.22,14.91 266.19,14.95 268.16,15.03 270.14,15.13 272.11,15.26 274.08,15.4 276.05,15.56 278.03,15.73 280,15.89" fill="none" stroke="#1c1c1c" stroke-width="1.0"/>
<polyline points="157.7,61.8 159.67,61.79 161.65,61.75 163.62,61.68 165.59,61.58 167.56,61.46 169.54,61.31 171.51,61.16 173.48,60.99 175.45,60.83 177.43,60.67 179.4,60.53 181.37,60.41 183.34,60.31 185.32,60.24 187.29,60.21 189.26,60.2 191.23,60.24 193.21,60.3 195.18,60.39 197.15,60.51 199.12,60.66 201.1,60.81 203.07,60.97 205.04,61.14 207.01,61.3 208.99,61.44 210.96,61.57 212.93,61.67 214.9,61.75 216.88,61.79 218.85,61.8 220.82,61.77 222.8,61.72 224.77,61.63 226.74,61.51 228.71,61.38 230.69,61.22 232.66,61.06 234.63,60.9 236.6,60.73 238.58,60.59 240.55,60.45 242.52,60.35 244.49,60.27 246.47,60.22 248.44,60.2 250.41,60.22 252.38,60.27 254.36,60.35 256.33,60.46 258.3,60.59 260.27,60.74 262.25,60.91 264.22,61.07 266.19,61.23 268.16,61.38 270.14,61.52 272.11,61.63 274.08,61.72 276.05,61.78 278.03,61.8 280,61.79" fill="none" stroke="#1c1c1c" stroke-width="1.0"/>
<line x1="157.5" y1="15.7" x2="157.5" y2="61" stroke="#1c1c1c" stroke-width="1.2"/>
<line x1="280.5" y1="15.7" x2="280.5" y2="61" stroke="#1c1c1c" stroke-width="1.2"/>
<polyline points="157.7,64.67 159.67,64.75 161.65,64.79 163.62,64.8 165.59,64.77 167.56,64.72 169.54,64.63 171.51,64.51 173.48,64.38 175.45,64.22 177.43,64.06 179.4,63.9 181.37,63.74 183.34,63.59 185.32,63.45 187.29,63.35 189.26,63.27 191.23,63.22 193.21,63.2 195.18,63.22 197.15,63.27 199.12,63.35 201.1,63.46 203.07,63.59 205.04,63.74 207.01,63.91 208.99,64.07 210.96,64.23 212.93,64.38 214.9,64.52 216.88,64.63 218.85,64.72 220.82,64.78 222.8,64.8 224.77,64.79 226.74,64.74 228.71,64.67 230.69,64.56 232.66,64.44 234.63,64.29 236.6,64.13 238.58,63.96 240.55,63.8 242.52,63.65 244.49,63.51 246.47,63.39 248.44,63.3 250.41,63.23 252.38,63.2 254.36,63.21 256.33,63.24 258.3,63.31 260.27,63.41 262.25,63.54 264.22,63.68 266.19,63.84 268.16,64 270.14,64.17 272.11,64.32 274.08,64.47 276.05,64.59 278.03,64.69 280,64.76" fill="none" stroke="#1c1c1c" stroke-width="1.0"/>
<polyline points="157.7,75.48 159.67,75.34 161.65,75.18 163.62,75.02 165.59,74.85 167.56,74.69 169.54,74.55 171.51,74.42 173.48,74.32 175.45,74.25 177.43,74.21 179.4,74.2 181.37,74.23 183.34,74.29 185.32,74.38 187.29,74.49 189.26,74.63 191.23,74.79 193.21,74.95 195.18,75.11 197.15,75.27 199.12,75.42 201.1,75.55 203.07,75.66 205.04,75.74 207.01,75.79 208.99,75.8 210.96,75.78 212.93,75.73 214.9,75.64 216.88,75.53 218.85,75.4 220.82,75.25 222.8,75.09 224.77,74.92 226.74,74.76 228.71,74.61 230.69,74.47 232.66,74.36 234.63,74.28 236.6,74.22 238.58,74.2 240.55,74.21 242.52,74.26 244.49,74.34 246.47,74.44 248.44,74.57 250.41,74.72 252.38,74.88 254.36,75.04 256.33,75.21 258.3,75.36 260.27,75.5 262.25,75.62 264.22,75.71 266.19,75.77 268.16,75.8 270.14,75.79 272.11,75.75 274.08,75.68 276.05,75.58 278.03,75.46 280,75.31" fill="none" stroke="#1c1c1c" stroke-width="1.0"/>
<line x1="157.5" y1="64" x2="157.5" y2="75" stroke="#1c1c1c" stroke-width="1.2"/>
<line x1="280.5" y1="64" x2="280.5" y2="75" stroke="#1c1c1c" stroke-width="1.2"/>
<polyline points="157.7,78.03 159.67,77.94 161.65,77.83 163.62,77.7 165.59,77.55 167.56,77.39 169.54,77.22 171.51,77.06 173.48,76.91 175.45,76.77 177.43,76.66 179.4,76.58 181.37,76.52 183.34,76.5 185.32,76.51 187.29,76.56 189.26,76.64 191.23,76.74 193.21,76.87 195.18,77.02 197.15,77.18 199.12,77.34 201.1,77.51 203.07,77.66 205.04,77.8 207.01,77.92 208.99,78.01 210.96,78.07 212.93,78.1 214.9,78.09 216.88,78.05 218.85,77.98 220.82,77.88 222.8,77.76 224.77,77.61 226.74,77.45 228.71,77.29 230.69,77.13 232.66,76.97 234.63,76.83 236.6,76.71 238.58,76.61 240.55,76.54 242.52,76.51 244.49,76.5 246.47,76.54 248.44,76.6 250.41,76.69 252.38,76.82 254.36,76.96 256.33,77.11 258.3,77.27 260.27,77.44 262.25,77.6 264.22,77.74 266.19,77.87 268.16,77.97 270.14,78.05 272.11,78.09 274.08,78.1 276.05,78.07 278.03,78.02 280,77.93" fill="none" stroke="#1c1c1c" stroke-width="1.0"/>
<line x1="157.5" y1="77.3" x2="157.5" y2="107.8" stroke="#1c1c1c" stroke-width="1.2"/>
<line x1="280.5" y1="77.3" x2="280.5" y2="107.8" stroke="#1c1c1c" stroke-width="1.2"/>
<line x1="157.7" y1="107.5" x2="280" y2="107.5" stroke="#1c1c1c" stroke-width="1.3"/>
<circle cx="168" cy="26.6" r="2.9" fill="none" stroke="#1c1c1c" stroke-width="1.5"/>
<line x1="164.1" y1="26.5" x2="171.9" y2="26.5" stroke="#1c1c1c" stroke-width="0.5"/>
<line x1="168.5" y1="22.7" x2="168.5" y2="30.5" stroke="#1c1c1c" stroke-width="0.5"/>
<circle cx="269.4" cy="26.6" r="2.9" fill="none" stroke="#1c1c1c" stroke-width="1.5"/>
<line x1="265.5" y1="26.5" x2="273.3" y2="26.5" stroke="#1c1c1c" stroke-width="0.5"/>
<line x1="269.5" y1="22.7" x2="269.5" y2="30.5" stroke="#1c1c1c" stroke-width="0.5"/>
<circle cx="168" cy="69" r="2.9" fill="none" stroke="#1c1c1c" stroke-width="1.5"/>
<line x1="164.1" y1="69.5" x2="171.9" y2="69.5" stroke="#1c1c1c" stroke-width="0.5"/>
<line x1="168.5" y1="65.1" x2="168.5" y2="72.9" stroke="#1c1c1c" stroke-width="0.5"/>
<circle cx="269.4" cy="69" r="2.9" fill="none" stroke="#1c1c1c" stroke-width="1.5"/>
<line x1="265.5" y1="69.5" x2="273.3" y2="69.5" stroke="#1c1c1c" stroke-width="0.5"/>
<line x1="269.5" y1="65.1" x2="269.5" y2="72.9" stroke="#1c1c1c" stroke-width="0.5"/>
<circle cx="218.6" cy="46.6" r="7" fill="none" stroke="#1c1c1c" stroke-width="1.1"/>
<circle cx="218.6" cy="87.7" r="7" fill="none" stroke="#1c1c1c" stroke-width="1.1"/>
<line x1="218.5" y1="37" x2="218.5" y2="56" stroke="#1c1c1c" stroke-width="0.5"/>
<line x1="208" y1="46.5" x2="312" y2="46.5" stroke="#1c1c1c" stroke-width="0.5"/>
<line x1="218.5" y1="79" x2="218.5" y2="97" stroke="#1c1c1c" stroke-width="0.5"/>
<line x1="208" y1="87.5" x2="312" y2="87.5" stroke="#1c1c1c" stroke-width="0.5"/>
<line x1="168" y1="32.5" x2="269.4" y2="32.5" stroke="#1c1c1c" stroke-width="0.8"/>
<polygon points="168,32.3 175.5,30.25 175.5,34.35" fill="#1c1c1c"/>
<polygon points="269.4,32.3 261.9,34.35 261.9,30.25" fill="#1c1c1c"/>
<line x1="168.5" y1="23" x2="168.5" y2="35" stroke="#1c1c1c" stroke-width="0.5"/>
<line x1="269.5" y1="23" x2="269.5" y2="35" stroke="#1c1c1c" stroke-width="0.5"/>
<text x="0" y="0" font-size="9.5" text-anchor="middle" fill="#111" stroke="#111" stroke-width="0.15" transform="translate(219 30.3)">50</text>
<line x1="142" y1="32.5" x2="157.7" y2="32.5" stroke="#1c1c1c" stroke-width="0.8"/>
<polygon points="157.7,32.3 150.2,34.35 150.2,30.25" fill="#1c1c1c"/>
<text x="0" y="0" font-size="9.5" text-anchor="middle" fill="#111" stroke="#111" stroke-width="0.15" transform="translate(145 30)">5</text>
<line x1="262.5" y1="19.5" x2="276" y2="33.6" stroke="#1c1c1c" stroke-width="0.8"/>
<polygon points="266.8,24.2 260.22,20.05 263.25,17.28" fill="#1c1c1c"/>
<polygon points="272,29.2 278.56,33.37 275.53,36.13" fill="#1c1c1c"/>
<line x1="276" y1="37.5" x2="307" y2="37.5" stroke="#1c1c1c" stroke-width="0.8"/>
<line x1="276.5" y1="33.6" x2="276.5" y2="37.6" stroke="#1c1c1c" stroke-width="0.8"/>
<text x="0" y="0" font-size="9" text-anchor="start" fill="#111" stroke="#111" stroke-width="0.15" transform="translate(283 35.6)">Ø3(5)</text>
<text x="0" y="0" font-size="9" text-anchor="start" fill="#111" stroke="#111" stroke-width="0.15" transform="translate(285 45)">4 отв.</text>
<text x="0" y="0" font-size="9" text-anchor="start" fill="#111" stroke="#111" stroke-width="0.15" transform="translate(171 56.8)">2 отв. Ø7</text>
<line x1="170" y1="58.5" x2="207" y2="58.5" stroke="#1c1c1c" stroke-width="0.8"/>
<line x1="207" y1="58.6" x2="227" y2="39" stroke="#1c1c1c" stroke-width="0.8"/>
<polygon points="213.5,52.4 209.49,59.06 206.66,56.09" fill="#1c1c1c"/>
<polygon points="223.6,41.8 228.09,35.45 230.69,38.61" fill="#1c1c1c"/>
<line x1="157.7" y1="97.5" x2="218.6" y2="97.5" stroke="#1c1c1c" stroke-width="0.8"/>
<polygon points="157.7,97 165.2,94.95 165.2,99.05" fill="#1c1c1c"/>
<polygon points="218.6,97 211.1,99.05 211.1,94.95" fill="#1c1c1c"/>
<text x="0" y="0" font-size="9.5" text-anchor="middle" fill="#111" stroke="#111" stroke-width="0.15" transform="translate(188.2 95.3)">30</text>
<line x1="157.5" y1="107.8" x2="157.5" y2="121" stroke="#1c1c1c" stroke-width="0.6"/>
<line x1="280.5" y1="107.8" x2="280.5" y2="121" stroke="#1c1c1c" stroke-width="0.6"/>
<line x1="157.7" y1="118.5" x2="280" y2="118.5" stroke="#1c1c1c" stroke-width="0.8"/>
<polygon points="157.7,118 165.2,115.95 165.2,120.05" fill="#1c1c1c"/>
<polygon points="280,118 272.5,120.05 272.5,115.95" fill="#1c1c1c"/>
<text x="0" y="0" font-size="9.5" text-anchor="middle" fill="#111" stroke="#111" stroke-width="0.15" transform="translate(219 117.2)">60</text>
<text x="0" y="0" font-size="9.5" text-anchor="start" fill="#111" stroke="#111" stroke-width="0.15" transform="translate(286 100.3)">s1</text>
<line x1="285" y1="101.5" x2="297" y2="101.5" stroke="#1c1c1c" stroke-width="0.7"/>
<polyline points="285,101.8 273.5,90.5" fill="none" stroke="#1c1c1c" stroke-width="0.8"/>
<circle cx="273.5" cy="90.5" r="1.1" fill="#1c1c1c"/>
<line x1="310.5" y1="10.3" x2="310.5" y2="108" stroke="#1c1c1c" stroke-width="0.8"/>
<line x1="280" y1="10.5" x2="313.3" y2="10.5" stroke="#1c1c1c" stroke-width="0.6"/>
<text x="0" y="0" font-size="9.5" text-anchor="start" fill="#111" stroke="#111" stroke-width="0.15" transform="translate(315 13.8)">80</text>
<polygon points="310.3,10.3 312.35,17.8 308.25,17.8" fill="#1c1c1c"/>
<line x1="280" y1="26.5" x2="313.3" y2="26.5" stroke="#1c1c1c" stroke-width="0.6"/>
<text x="0" y="0" font-size="9.5" text-anchor="start" fill="#111" stroke="#111" stroke-width="0.15" transform="translate(315 30.1)">65</text>
<polygon points="310.3,26.6 312.35,34.1 308.25,34.1" fill="#1c1c1c"/>
<line x1="280" y1="46.5" x2="313.3" y2="46.5" stroke="#1c1c1c" stroke-width="0.6"/>
<text x="0" y="0" font-size="9.5" text-anchor="start" fill="#111" stroke="#111" stroke-width="0.15" transform="translate(315 50.1)">55</text>
<polygon points="310.3,46.6 312.35,54.1 308.25,54.1" fill="#1c1c1c"/>
<line x1="280" y1="69.5" x2="313.3" y2="69.5" stroke="#1c1c1c" stroke-width="0.6"/>
<text x="0" y="0" font-size="9.5" text-anchor="start" fill="#111" stroke="#111" stroke-width="0.15" transform="translate(315 72.8)">30</text>
<polygon points="310.3,69.3 312.35,76.8 308.25,76.8" fill="#1c1c1c"/>
<line x1="280" y1="87.5" x2="313.3" y2="87.5" stroke="#1c1c1c" stroke-width="0.6"/>
<text x="0" y="0" font-size="9.5" text-anchor="start" fill="#111" stroke="#111" stroke-width="0.15" transform="translate(315 91.3)">10</text>
<polygon points="310.3,87.8 312.35,95.3 308.25,95.3" fill="#1c1c1c"/>
<line x1="280" y1="108.5" x2="313.3" y2="108.5" stroke="#1c1c1c" stroke-width="0.6"/>
<text x="0" y="0" font-size="9.5" text-anchor="start" fill="#111" stroke="#111" stroke-width="0.15" transform="translate(317.8 111.5)">0</text>
<line x1="341.1" y1="10.5" x2="665.58" y2="10.5" stroke="#1c1c1c" stroke-width="1.3"/>
<line x1="341.5" y1="10.6" x2="341.5" y2="54.5" stroke="#1c1c1c" stroke-width="1.3"/>
<line x1="665.5" y1="10.6" x2="665.5" y2="54.5" stroke="#1c1c1c" stroke-width="1.3"/>
<polyline points="341.1,54.6 343.09,54.74 345.08,54.88 347.07,55 349.06,55.1 351.05,55.18 353.04,55.25 355.03,55.28 357.03,55.3 359.02,55.29 361.01,55.26 363,55.2 364.99,55.12 366.98,55.02 368.97,54.91 370.96,54.78 372.95,54.63 374.94,54.48 376.93,54.33 378.92,54.17 380.91,54.02 382.9,53.87 384.89,53.74 386.89,53.62 388.88,53.51 390.87,53.42 392.86,53.36 394.85,53.32 396.84,53.3 398.83,53.31 400.82,53.34 402.81,53.39 404.8,53.47 406.79,53.57 408.78,53.68 410.77,53.81 412.76,53.95 414.75,54.1 416.75,54.26 418.74,54.41 420.73,54.57 422.72,54.71 424.71,54.85 426.7,54.97 428.69,55.08 430.68,55.17 432.67,55.24 434.66,55.28 436.65,55.3 438.64,55.29 440.63,55.27 442.62,55.21 444.62,55.14 446.61,55.04 448.6,54.93 450.59,54.8 452.58,54.66 454.57,54.51 456.56,54.36 458.55,54.2 460.54,54.05 462.53,53.9 464.52,53.76 466.51,53.64 468.5,53.53 470.49,53.44 472.48,53.37 474.48,53.32 476.47,53.3 478.46,53.3 480.45,53.33 482.44,53.38 484.43,53.45 486.42,53.55 488.41,53.66 490.4,53.79 492.39,53.93 494.38,54.07 496.37,54.23 498.36,54.38 500.35,54.54 502.34,54.69 504.34,54.83 506.33,54.95 508.32,55.06 510.31,55.15 512.3,55.22 514.29,55.27 516.28,55.3 518.27,55.3 520.26,55.27 522.25,55.22 524.24,55.15 526.23,55.06 528.22,54.95 530.21,54.83 532.2,54.69 534.2,54.54 536.19,54.39 538.18,54.23 540.17,54.08 542.16,53.93 544.15,53.79 546.14,53.66 548.13,53.55 550.12,53.45 552.11,53.38 554.1,53.33 556.09,53.3 558.08,53.3 560.07,53.32 562.06,53.37 564.06,53.44 566.05,53.53 568.04,53.64 570.03,53.76 572.02,53.9 574.01,54.05 576,54.2 577.99,54.36 579.98,54.51 581.97,54.66 583.96,54.8 585.95,54.93 587.94,55.04 589.93,55.14 591.93,55.21 593.92,55.27 595.91,55.29 597.9,55.3 599.89,55.28 601.88,55.24 603.87,55.17 605.86,55.08 607.85,54.97 609.84,54.85 611.83,54.71 613.82,54.57 615.81,54.41 617.8,54.26 619.79,54.1 621.79,53.95 623.78,53.81 625.77,53.68 627.76,53.57 629.75,53.47 631.74,53.39 633.73,53.34 635.72,53.31 637.71,53.3 639.7,53.32 641.69,53.36 643.68,53.42 645.67,53.51 647.66,53.61 649.65,53.74 651.65,53.87 653.64,54.02 655.63,54.17 657.62,54.33 659.61,54.48 661.6,54.63 663.59,54.78 665.58,54.91" fill="none" stroke="#1c1c1c" stroke-width="1.1"/>
<polyline points="341.1,58.7 343.09,58.84 345.08,58.98 347.07,59.1 349.06,59.2 351.05,59.28 353.04,59.35 355.03,59.38 357.03,59.4 359.02,59.39 361.01,59.36 363,59.3 364.99,59.22 366.98,59.12 368.97,59.01 370.96,58.88 372.95,58.73 374.94,58.58 376.93,58.43 378.92,58.27 380.91,58.12 382.9,57.97 384.89,57.84 386.89,57.72 388.88,57.61 390.87,57.52 392.86,57.46 394.85,57.42 396.84,57.4 398.83,57.41 400.82,57.44 402.81,57.49 404.8,57.57 406.79,57.67 408.78,57.78 410.77,57.91 412.76,58.05 414.75,58.2 416.75,58.36 418.74,58.51 420.73,58.67 422.72,58.81 424.71,58.95 426.7,59.07 428.69,59.18 430.68,59.27 432.67,59.34 434.66,59.38 436.65,59.4 438.64,59.39 440.63,59.37 442.62,59.31 444.62,59.24 446.61,59.14 448.6,59.03 450.59,58.9 452.58,58.76 454.57,58.61 456.56,58.46 458.55,58.3 460.54,58.15 462.53,58 464.52,57.86 466.51,57.74 468.5,57.63 470.49,57.54 472.48,57.47 474.48,57.42 476.47,57.4 478.46,57.4 480.45,57.43 482.44,57.48 484.43,57.55 486.42,57.65 488.41,57.76 490.4,57.89 492.39,58.03 494.38,58.17 496.37,58.33 498.36,58.48 500.35,58.64 502.34,58.79 504.34,58.93 506.33,59.05 508.32,59.16 510.31,59.25 512.3,59.32 514.29,59.37 516.28,59.4 518.27,59.4 520.26,59.37 522.25,59.32 524.24,59.25 526.23,59.16 528.22,59.05 530.21,58.93 532.2,58.79 534.2,58.64 536.19,58.49 538.18,58.33 540.17,58.18 542.16,58.03 544.15,57.89 546.14,57.76 548.13,57.65 550.12,57.55 552.11,57.48 554.1,57.43 556.09,57.4 558.08,57.4 560.07,57.42 562.06,57.47 564.06,57.54 566.05,57.63 568.04,57.74 570.03,57.86 572.02,58 574.01,58.15 576,58.3 577.99,58.46 579.98,58.61 581.97,58.76 583.96,58.9 585.95,59.03 587.94,59.14 589.93,59.24 591.93,59.31 593.92,59.37 595.91,59.39 597.9,59.4 599.89,59.38 601.88,59.34 603.87,59.27 605.86,59.18 607.85,59.07 609.84,58.95 611.83,58.81 613.82,58.67 615.81,58.51 617.8,58.36 619.79,58.2 621.79,58.05 623.78,57.91 625.77,57.78 627.76,57.67 629.75,57.57 631.74,57.49 633.73,57.44 635.72,57.41 637.71,57.4 639.7,57.42 641.69,57.46 643.68,57.52 645.67,57.61 647.66,57.71 649.65,57.84 651.65,57.97 653.64,58.12 655.63,58.27 657.62,58.43 659.61,58.58 661.6,58.73 663.59,58.88 665.58,59.01" fill="none" stroke="#1c1c1c" stroke-width="1.1"/>
<line x1="341.5" y1="58.4" x2="341.5" y2="137.2" stroke="#1c1c1c" stroke-width="1.3"/>
<line x1="665.5" y1="58.4" x2="665.5" y2="137.2" stroke="#1c1c1c" stroke-width="1.3"/>
<polyline points="341.1,137.5 343.09,137.64 345.08,137.78 347.07,137.9 349.06,138 351.05,138.08 353.04,138.15 355.03,138.18 357.03,138.2 359.02,138.19 361.01,138.16 363,138.1 364.99,138.02 366.98,137.92 368.97,137.81 370.96,137.68 372.95,137.53 374.94,137.38 376.93,137.23 378.92,137.07 380.91,136.92 382.9,136.77 384.89,136.64 386.89,136.52 388.88,136.41 390.87,136.32 392.86,136.26 394.85,136.22 396.84,136.2 398.83,136.21 400.82,136.24 402.81,136.29 404.8,136.37 406.79,136.47 408.78,136.58 410.77,136.71 412.76,136.85 414.75,137 416.75,137.16 418.74,137.31 420.73,137.47 422.72,137.61 424.71,137.75 426.7,137.87 428.69,137.98 430.68,138.07 432.67,138.14 434.66,138.18 436.65,138.2 438.64,138.19 440.63,138.17 442.62,138.11 444.62,138.04 446.61,137.94 448.6,137.83 450.59,137.7 452.58,137.56 454.57,137.41 456.56,137.26 458.55,137.1 460.54,136.95 462.53,136.8 464.52,136.66 466.51,136.54 468.5,136.43 470.49,136.34 472.48,136.27 474.48,136.22 476.47,136.2 478.46,136.2 480.45,136.23 482.44,136.28 484.43,136.35 486.42,136.45 488.41,136.56 490.4,136.69 492.39,136.83 494.38,136.97 496.37,137.13 498.36,137.28 500.35,137.44 502.34,137.59 504.34,137.73 506.33,137.85 508.32,137.96 510.31,138.05 512.3,138.12 514.29,138.17 516.28,138.2 518.27,138.2 520.26,138.17 522.25,138.12 524.24,138.05 526.23,137.96 528.22,137.85 530.21,137.73 532.2,137.59 534.2,137.44 536.19,137.29 538.18,137.13 540.17,136.98 542.16,136.83 544.15,136.69 546.14,136.56 548.13,136.45 550.12,136.35 552.11,136.28 554.1,136.23 556.09,136.2 558.08,136.2 560.07,136.22 562.06,136.27 564.06,136.34 566.05,136.43 568.04,136.54 570.03,136.66 572.02,136.8 574.01,136.95 576,137.1 577.99,137.26 579.98,137.41 581.97,137.56 583.96,137.7 585.95,137.83 587.94,137.94 589.93,138.04 591.93,138.11 593.92,138.17 595.91,138.19 597.9,138.2 599.89,138.18 601.88,138.14 603.87,138.07 605.86,137.98 607.85,137.87 609.84,137.75 611.83,137.61 613.82,137.47 615.81,137.31 617.8,137.16 619.79,137 621.79,136.85 623.78,136.71 625.77,136.58 627.76,136.47 629.75,136.37 631.74,136.29 633.73,136.24 635.72,136.21 637.71,136.2 639.7,136.22 641.69,136.26 643.68,136.32 645.67,136.41 647.66,136.51 649.65,136.64 651.65,136.77 653.64,136.92 655.63,137.07 657.62,137.23 659.61,137.38 661.6,137.53 663.59,137.68 665.58,137.81" fill="none" stroke="#1c1c1c" stroke-width="1.1"/>
<polyline points="341.1,141.7 343.09,141.84 345.08,141.98 347.07,142.1 349.06,142.2 351.05,142.28 353.04,142.35 355.03,142.38 357.03,142.4 359.02,142.39 361.01,142.36 363,142.3 364.99,142.22 366.98,142.12 368.97,142.01 370.96,141.88 372.95,141.73 374.94,141.58 376.93,141.43 378.92,141.27 380.91,141.12 382.9,140.97 384.89,140.84 386.89,140.72 388.88,140.61 390.87,140.52 392.86,140.46 394.85,140.42 396.84,140.4 398.83,140.41 400.82,140.44 402.81,140.49 404.8,140.57 406.79,140.67 408.78,140.78 410.77,140.91 412.76,141.05 414.75,141.2 416.75,141.36 418.74,141.51 420.73,141.67 422.72,141.81 424.71,141.95 426.7,142.07 428.69,142.18 430.68,142.27 432.67,142.34 434.66,142.38 436.65,142.4 438.64,142.39 440.63,142.37 442.62,142.31 444.62,142.24 446.61,142.14 448.6,142.03 450.59,141.9 452.58,141.76 454.57,141.61 456.56,141.46 458.55,141.3 460.54,141.15 462.53,141 464.52,140.86 466.51,140.74 468.5,140.63 470.49,140.54 472.48,140.47 474.48,140.42 476.47,140.4 478.46,140.4 480.45,140.43 482.44,140.48 484.43,140.55 486.42,140.65 488.41,140.76 490.4,140.89 492.39,141.03 494.38,141.17 496.37,141.33 498.36,141.48 500.35,141.64 502.34,141.79 504.34,141.93 506.33,142.05 508.32,142.16 510.31,142.25 512.3,142.32 514.29,142.37 516.28,142.4 518.27,142.4 520.26,142.37 522.25,142.32 524.24,142.25 526.23,142.16 528.22,142.05 530.21,141.93 532.2,141.79 534.2,141.64 536.19,141.49 538.18,141.33 540.17,141.18 542.16,141.03 544.15,140.89 546.14,140.76 548.13,140.65 550.12,140.55 552.11,140.48 554.1,140.43 556.09,140.4 558.08,140.4 560.07,140.42 562.06,140.47 564.06,140.54 566.05,140.63 568.04,140.74 570.03,140.86 572.02,141 574.01,141.15 576,141.3 577.99,141.46 579.98,141.61 581.97,141.76 583.96,141.9 585.95,142.03 587.94,142.14 589.93,142.24 591.93,142.31 593.92,142.37 595.91,142.39 597.9,142.4 599.89,142.38 601.88,142.34 603.87,142.27 605.86,142.18 607.85,142.07 609.84,141.95 611.83,141.81 613.82,141.67 615.81,141.51 617.8,141.36 619.79,141.2 621.79,141.05 623.78,140.91 625.77,140.78 627.76,140.67 629.75,140.57 631.74,140.49 633.73,140.44 635.72,140.41 637.71,140.4 639.7,140.42 641.69,140.46 643.68,140.52 645.67,140.61 647.66,140.71 649.65,140.84 651.65,140.97 653.64,141.12 655.63,141.27 657.62,141.43 659.61,141.58 661.6,141.73 663.59,141.88 665.58,142.01" fill="none" stroke="#1c1c1c" stroke-width="1.1"/>
<line x1="341.5" y1="141.4" x2="341.5" y2="257.6" stroke="#1c1c1c" stroke-width="1.3"/>
<line x1="665.5" y1="141.4" x2="665.5" y2="257.6" stroke="#1c1c1c" stroke-width="1.3"/>
<line x1="341.1" y1="257.5" x2="665.58" y2="257.5" stroke="#1c1c1c" stroke-width="1.4"/>
<line x1="422.22" y1="61.5" x2="584.46" y2="61.5" stroke="#1c1c1c" stroke-width="1.0" stroke-dasharray="5 2.5"/>
<line x1="422.5" y1="61.3" x2="422.5" y2="136" stroke="#1c1c1c" stroke-width="1.0" stroke-dasharray="5 2.5"/>
<line x1="422.5" y1="143" x2="422.5" y2="257.6" stroke="#1c1c1c" stroke-width="1.0" stroke-dasharray="5 2.5"/>
<line x1="584.5" y1="61.3" x2="584.5" y2="136" stroke="#1c1c1c" stroke-width="1.0" stroke-dasharray="5 2.5"/>
<line x1="584.5" y1="143" x2="584.5" y2="257.6" stroke="#1c1c1c" stroke-width="1.0" stroke-dasharray="5 2.5"/>
<circle cx="371.52" cy="41" r="5.9" fill="none" stroke="#1c1c1c" stroke-width="1.1"/>
<line x1="363.12" y1="41.5" x2="379.92" y2="41.5" stroke="#1c1c1c" stroke-width="0.6"/>
<line x1="371.5" y1="32.6" x2="371.5" y2="49.4" stroke="#1c1c1c" stroke-width="0.6"/>
<circle cx="635.16" cy="41" r="5.9" fill="none" stroke="#1c1c1c" stroke-width="1.1"/>
<line x1="626.76" y1="41.5" x2="643.56" y2="41.5" stroke="#1c1c1c" stroke-width="0.6"/>
<line x1="635.5" y1="32.6" x2="635.5" y2="49.4" stroke="#1c1c1c" stroke-width="0.6"/>
<line x1="619.16" y1="41.5" x2="627.16" y2="41.5" stroke="#1c1c1c" stroke-width="0.6"/>
<line x1="619.5" y1="10.6" x2="619.5" y2="41" stroke="#1c1c1c" stroke-width="0.8"/>
<polygon points="619.4,10.6 621.45,18.1 617.35,18.1" fill="#1c1c1c"/>
<polygon points="619.4,41 617.35,33.5 621.45,33.5" fill="#1c1c1c"/>
<text x="0" y="0" font-size="9" text-anchor="middle" fill="#111" stroke="#111" stroke-width="0.15" transform="translate(616.8 25.5) rotate(-90)">15</text>
<polygon points="452.64,92.9 455.44,95.7 452.64,98.5 449.84,95.7" fill="#3a3a3a" stroke="#1c1c1c" stroke-width="0.9"/>
<line x1="448.04" y1="95.5" x2="457.24" y2="95.5" stroke="#1c1c1c" stroke-width="0.7"/>
<line x1="452.5" y1="91.1" x2="452.5" y2="100.3" stroke="#1c1c1c" stroke-width="0.7"/>
<polygon points="554.04,92.9 556.84,95.7 554.04,98.5 551.24,95.7" fill="#3a3a3a" stroke="#1c1c1c" stroke-width="0.9"/>
<line x1="549.44" y1="95.5" x2="558.64" y2="95.5" stroke="#1c1c1c" stroke-width="0.7"/>
<line x1="554.5" y1="91.1" x2="554.5" y2="100.3" stroke="#1c1c1c" stroke-width="0.7"/>
<circle cx="503.34" cy="115.5" r="18.4" fill="none" stroke="#1c1c1c" stroke-width="1.2"/>
<line x1="503.5" y1="94" x2="503.5" y2="137" stroke="#1c1c1c" stroke-width="0.6" stroke-dasharray="6 1.5 1 1.5"/>
<line x1="481.34" y1="115.5" x2="679" y2="115.5" stroke="#1c1c1c" stroke-width="0.7"/>
<line x1="558.04" y1="95.5" x2="679" y2="95.5" stroke="#1c1c1c" stroke-width="0.6"/>
<polygon points="452.64,147.5 455.44,150.3 452.64,153.1 449.84,150.3" fill="#3a3a3a" stroke="#1c1c1c" stroke-width="0.9"/>
<line x1="448.04" y1="150.5" x2="457.24" y2="150.5" stroke="#1c1c1c" stroke-width="0.7"/>
<line x1="452.5" y1="145.7" x2="452.5" y2="154.9" stroke="#1c1c1c" stroke-width="0.7"/>
<polygon points="554.04,147.5 556.84,150.3 554.04,153.1 551.24,150.3" fill="#3a3a3a" stroke="#1c1c1c" stroke-width="0.9"/>
<line x1="549.44" y1="150.5" x2="558.64" y2="150.5" stroke="#1c1c1c" stroke-width="0.7"/>
<line x1="554.5" y1="145.7" x2="554.5" y2="154.9" stroke="#1c1c1c" stroke-width="0.7"/>
<circle cx="503.34" cy="190.5" r="18.4" fill="none" stroke="#1c1c1c" stroke-width="1.2"/>
<line x1="481.34" y1="190.5" x2="679" y2="190.5" stroke="#1c1c1c" stroke-width="0.6"/>
<line x1="503.5" y1="170" x2="503.5" y2="271" stroke="#1c1c1c" stroke-width="0.6"/>
<line x1="558.04" y1="150.5" x2="679" y2="150.5" stroke="#1c1c1c" stroke-width="0.6"/>
<circle cx="452.64" cy="227.3" r="3.4" fill="none" stroke="#1c1c1c" stroke-width="0.9"/>
<line x1="446.24" y1="227.5" x2="459.04" y2="227.5" stroke="#1c1c1c" stroke-width="0.6"/>
<line x1="452.5" y1="220.9" x2="452.5" y2="233.7" stroke="#1c1c1c" stroke-width="0.6"/>
<line x1="452.5" y1="150.3" x2="452.5" y2="271" stroke="#1c1c1c" stroke-width="0.6"/>
<circle cx="554.04" cy="227.3" r="3.4" fill="none" stroke="#1c1c1c" stroke-width="0.9"/>
<line x1="547.64" y1="227.5" x2="560.44" y2="227.5" stroke="#1c1c1c" stroke-width="0.6"/>
<line x1="554.5" y1="220.9" x2="554.5" y2="233.7" stroke="#1c1c1c" stroke-width="0.6"/>
<line x1="554.5" y1="150.3" x2="554.5" y2="271" stroke="#1c1c1c" stroke-width="0.6"/>
<circle cx="371.52" cy="227.3" r="4.2" fill="none" stroke="#1c1c1c" stroke-width="1.1"/>
<line x1="365.82" y1="227.5" x2="377.22" y2="227.5" stroke="#1c1c1c" stroke-width="0.5"/>
<line x1="371.5" y1="221.6" x2="371.5" y2="233" stroke="#1c1c1c" stroke-width="0.5"/>
<line x1="371.5" y1="227.3" x2="371.5" y2="271" stroke="#1c1c1c" stroke-width="0.6"/>
<circle cx="635.16" cy="227.3" r="4.2" fill="none" stroke="#1c1c1c" stroke-width="1.1"/>
<line x1="629.46" y1="227.5" x2="640.86" y2="227.5" stroke="#1c1c1c" stroke-width="0.5"/>
<line x1="635.5" y1="221.6" x2="635.5" y2="233" stroke="#1c1c1c" stroke-width="0.5"/>
<line x1="635.5" y1="227.3" x2="635.5" y2="271" stroke="#1c1c1c" stroke-width="0.6"/>
<line x1="643.16" y1="227.5" x2="679" y2="227.5" stroke="#1c1c1c" stroke-width="0.6"/>
<line x1="665.58" y1="257.5" x2="679" y2="257.5" stroke="#1c1c1c" stroke-width="0.6"/>
<line x1="665.58" y1="10.5" x2="679" y2="10.5" stroke="#1c1c1c" stroke-width="0.6"/>
<line x1="584.46" y1="61.5" x2="679" y2="61.5" stroke="#1c1c1c" stroke-width="0.6"/>
<line x1="675.5" y1="10.6" x2="675.5" y2="257.6" stroke="#1c1c1c" stroke-width="0.8"/>
<polygon points="675.4,10.6 677.45,18.1 673.35,18.1" fill="#1c1c1c"/>
<polygon points="675.4,61.3 677.45,68.8 673.35,68.8" fill="#1c1c1c"/>
<polygon points="675.4,95.7 677.45,103.2 673.35,103.2" fill="#1c1c1c"/>
<polygon points="675.4,115.5 677.45,123 673.35,123" fill="#1c1c1c"/>
<polygon points="675.4,150.3 677.45,157.8 673.35,157.8" fill="#1c1c1c"/>
<polygon points="675.4,190.5 677.45,198 673.35,198" fill="#1c1c1c"/>
<polygon points="675.4,227.3 677.45,234.8 673.35,234.8" fill="#1c1c1c"/>
<text x="0" y="0" font-size="9.5" text-anchor="start" fill="#111" stroke="#111" stroke-width="0.15" transform="translate(679 14.5)">205</text>
<text x="0" y="0" font-size="9.5" text-anchor="start" fill="#111" stroke="#111" stroke-width="0.15" transform="translate(679 64.8)">105</text>
<text x="0" y="0" font-size="9.5" text-anchor="start" fill="#111" stroke="#111" stroke-width="0.15" transform="translate(681.5 99.2)">88</text>
<text x="0" y="0" font-size="9.5" text-anchor="start" fill="#111" stroke="#111" stroke-width="0.15" transform="translate(681.5 119)">78</text>
<text x="0" y="0" font-size="9.5" text-anchor="start" fill="#111" stroke="#111" stroke-width="0.15" transform="translate(681.5 154)">53</text>
<text x="0" y="0" font-size="9.5" text-anchor="start" fill="#111" stroke="#111" stroke-width="0.15" transform="translate(681.5 194)">33</text>
<text x="0" y="0" font-size="9.5" text-anchor="start" fill="#111" stroke="#111" stroke-width="0.15" transform="translate(681.5 231)">15</text>
<text x="0" y="0" font-size="9.5" text-anchor="start" fill="#111" stroke="#111" stroke-width="0.15" transform="translate(684 261.2)">0</text>
<line x1="341.5" y1="257.6" x2="341.5" y2="271" stroke="#1c1c1c" stroke-width="0.6"/>
<line x1="422.5" y1="257.6" x2="422.5" y2="271" stroke="#1c1c1c" stroke-width="0.6"/>
<line x1="584.5" y1="257.6" x2="584.5" y2="271" stroke="#1c1c1c" stroke-width="0.6"/>
<line x1="665.5" y1="257.6" x2="665.5" y2="271" stroke="#1c1c1c" stroke-width="0.6"/>
<line x1="341.1" y1="268.5" x2="665.58" y2="268.5" stroke="#1c1c1c" stroke-width="0.8"/>
<polygon points="371.52,268 364.02,270.05 364.02,265.95" fill="#1c1c1c"/>
<polygon points="422.22,268 414.72,270.05 414.72,265.95" fill="#1c1c1c"/>
<polygon points="452.64,268 445.14,270.05 445.14,265.95" fill="#1c1c1c"/>
<polygon points="503.34,268 495.84,270.05 495.84,265.95" fill="#1c1c1c"/>
<polygon points="554.04,268 546.54,270.05 546.54,265.95" fill="#1c1c1c"/>
<polygon points="584.46,268 576.96,270.05 576.96,265.95" fill="#1c1c1c"/>
<polygon points="635.16,268 627.66,270.05 627.66,265.95" fill="#1c1c1c"/>
<polygon points="665.58,268 658.08,270.05 658.08,265.95" fill="#1c1c1c"/>
<text x="0" y="0" font-size="9.5" text-anchor="middle" fill="#111" stroke="#111" stroke-width="0.15" transform="translate(341.1 279.3)">0</text>
<text x="0" y="0" font-size="9.5" text-anchor="middle" fill="#111" stroke="#111" stroke-width="0.15" transform="translate(371.52 279.3)">15</text>
<text x="0" y="0" font-size="9.5" text-anchor="middle" fill="#111" stroke="#111" stroke-width="0.15" transform="translate(422.22 279.3)">40</text>
<text x="0" y="0" font-size="9.5" text-anchor="middle" fill="#111" stroke="#111" stroke-width="0.15" transform="translate(452.64 279.3)">55</text>
<text x="0" y="0" font-size="9.5" text-anchor="middle" fill="#111" stroke="#111" stroke-width="0.15" transform="translate(503.34 279.3)">80</text>
<text x="0" y="0" font-size="9.5" text-anchor="middle" fill="#111" stroke="#111" stroke-width="0.15" transform="translate(554.04 279.3)">105</text>
<text x="0" y="0" font-size="9.5" text-anchor="middle" fill="#111" stroke="#111" stroke-width="0.15" transform="translate(584.46 279.3)">120</text>
<text x="0" y="0" font-size="9.5" text-anchor="middle" fill="#111" stroke="#111" stroke-width="0.15" transform="translate(635.16 279.3)">145</text>
<text x="0" y="0" font-size="9.5" text-anchor="middle" fill="#111" stroke="#111" stroke-width="0.15" transform="translate(665.58 279.3)">160</text>
<text x="0" y="0" font-size="9" text-anchor="start" fill="#111" stroke="#111" stroke-width="0.15" transform="translate(383 26.3)">2 отв.Ø5,5</text>
<line x1="381" y1="28.5" x2="428" y2="28.5" stroke="#1c1c1c" stroke-width="0.8"/>
<line x1="381" y1="28.6" x2="361" y2="50" stroke="#1c1c1c" stroke-width="0.8"/>
<polygon points="375.8,34.5 379.22,27.52 382.3,30.23" fill="#1c1c1c"/>
<polygon points="366.5,44 362.94,50.91 359.92,48.14" fill="#1c1c1c"/>
<text x="0" y="0" font-size="9" text-anchor="start" fill="#111" stroke="#111" stroke-width="0.15" transform="translate(461 83.8)">4 отв.Ø2</text>
<line x1="459.5" y1="86.5" x2="498" y2="86.5" stroke="#1c1c1c" stroke-width="0.8"/>
<line x1="459.5" y1="86" x2="443.5" y2="104.5" stroke="#1c1c1c" stroke-width="0.8"/>
<polygon points="455,91.3 458.29,84.26 461.42,86.91" fill="#1c1c1c"/>
<polygon points="449.5,97.7 446.08,104.68 443,101.97" fill="#1c1c1c"/>
<text x="0" y="0" font-size="9" text-anchor="start" fill="#111" stroke="#111" stroke-width="0.15" transform="translate(476.5 161.8)">2 отв.Ø18</text>
<line x1="476" y1="164.5" x2="516" y2="164.5" stroke="#1c1c1c" stroke-width="0.8"/>
<line x1="476" y1="164" x2="517" y2="204.5" stroke="#1c1c1c" stroke-width="0.8"/>
<polygon points="490.5,177.5 483.61,173.89 486.41,170.89" fill="#1c1c1c"/>
<polygon points="516.3,203.5 509.57,199.6 512.49,196.72" fill="#1c1c1c"/>
<text x="0" y="0" font-size="9" text-anchor="start" fill="#111" stroke="#111" stroke-width="0.15" transform="translate(384 214.5)">Ø4,2</text>
<line x1="383" y1="216.5" x2="409" y2="216.5" stroke="#1c1c1c" stroke-width="0.8"/>
<text x="0" y="0" font-size="9" text-anchor="start" fill="#111" stroke="#111" stroke-width="0.15" transform="translate(385.5 224.5)">2 отв.</text>
<line x1="383" y1="216.4" x2="362.5" y2="236.5" stroke="#1c1c1c" stroke-width="0.8"/>
<polygon points="376.5,223 380.3,216.22 383.22,219.09" fill="#1c1c1c"/>
<polygon points="366.5,232.5 362.65,239.25 359.75,236.35" fill="#1c1c1c"/>
<text x="0" y="0" font-size="9.5" text-anchor="start" fill="#111" stroke="#111" stroke-width="0.15" transform="translate(323.5 211.5)">s6</text>
<line x1="322" y1="213.5" x2="335" y2="213.5" stroke="#1c1c1c" stroke-width="0.7"/>
<polyline points="335,213.3 348,199" fill="none" stroke="#1c1c1c" stroke-width="0.8"/>
<circle cx="348" cy="199" r="1.1" fill="#1c1c1c"/>
<circle cx="322.9" cy="134.1" r="6.6" fill="none" stroke="#1c1c1c" stroke-width="1.15"/>
<text x="0" y="0" font-size="9.6" text-anchor="middle" fill="#111" stroke="#111" stroke-width="0.15" transform="translate(322.9 137.51) scale(1.0 1)">5</text>
<circle cx="323" cy="154.4" r="6.6" fill="none" stroke="#1c1c1c" stroke-width="1.15"/>
<text x="0" y="0" font-size="9.6" text-anchor="middle" fill="#111" stroke="#111" stroke-width="0.15" transform="translate(323 157.81) scale(0.88 1)">20</text>
<path d="M33.33,456.9 L263.07,456.9 A20.3,20.3 0 0 1 282.21,470.45 A142.1,142.1 0 1 1 14.19,470.45 A20.3,20.3 0 0 1 33.33,456.9 Z" fill="none" stroke="#1c1c1c" stroke-width="1.3"/>
<path d="M36.499999999999986,517.7 A111.7,111.7 0 0 0 259.9,517.7 A30.45,30.45 0 0 0 199.0,517.7 A50.8,50.8 0 0 1 97.39999999999999,517.7 A30.45,30.45 0 0 0 36.499999999999986,517.7 Z" fill="none" stroke="#1c1c1c" stroke-width="1.3"/>
<path d="M66.94999999999999,517.7 A81.25,81.25 0 0 0 229.45,517.7" fill="none" stroke="#1c1c1c" stroke-width="0.9" stroke-dasharray="14 2.5 2 2.5"/>
<line x1="66.5" y1="511.7" x2="66.5" y2="523.7" stroke="#1c1c1c" stroke-width="0.6"/>
<line x1="229.5" y1="511.7" x2="229.5" y2="523.7" stroke="#1c1c1c" stroke-width="0.6"/>
<line x1="3" y1="517.5" x2="296" y2="517.5" stroke="#1c1c1c" stroke-width="0.7" stroke-dasharray="16 2.5 2 2.5"/>
<line x1="148.5" y1="450" x2="148.5" y2="666" stroke="#1c1c1c" stroke-width="0.7" stroke-dasharray="16 2.5 2 2.5"/>
<circle cx="148.2" cy="517.7" r="6.9" fill="none" stroke="#1c1c1c" stroke-width="1.2"/>
<circle cx="138.2" cy="539.6" r="3.2" fill="none" stroke="#1c1c1c" stroke-width="1.4"/>
<circle cx="158.2" cy="539.6" r="3.2" fill="none" stroke="#1c1c1c" stroke-width="1.4"/>
<line x1="132.2" y1="539.5" x2="164.2" y2="539.5" stroke="#1c1c1c" stroke-width="0.5" stroke-dasharray="6 1.5 1 1.5"/>
<line x1="144.7" y1="523.76" x2="140.2" y2="531.56" stroke="#1c1c1c" stroke-width="0.5"/>
<line x1="146.39" y1="524.46" x2="144.06" y2="533.15" stroke="#1c1c1c" stroke-width="0.5"/>
<line x1="150.01" y1="524.46" x2="152.34" y2="533.15" stroke="#1c1c1c" stroke-width="0.5"/>
<line x1="151.7" y1="523.76" x2="156.2" y2="531.56" stroke="#1c1c1c" stroke-width="0.5"/>
<circle cx="13.1" cy="443.5" r="6.6" fill="none" stroke="#1c1c1c" stroke-width="1.15"/>
<text x="0" y="0" font-size="9.6" text-anchor="middle" fill="#111" stroke="#111" stroke-width="0.15" transform="translate(13.1 446.91) scale(0.88 1)">12</text>
<line x1="108.5" y1="456.9" x2="108.5" y2="517.7" stroke="#1c1c1c" stroke-width="0.8"/>
<polygon points="108.8,456.9 110.85,464.4 106.75,464.4" fill="#1c1c1c"/>
<polygon points="108.8,517.7 106.75,510.2 110.85,510.2" fill="#1c1c1c"/>
<text x="0" y="0" font-size="9.5" text-anchor="middle" fill="#111" stroke="#111" stroke-width="0.15" transform="translate(106.8 487.5) rotate(-90)">30</text>
<line x1="100" y1="456.5" x2="115" y2="456.5" stroke="#1c1c1c" stroke-width="0.5"/>
<line x1="181.5" y1="456.9" x2="181.5" y2="539.6" stroke="#1c1c1c" stroke-width="0.8"/>
<polygon points="181,456.9 183.05,464.4 178.95,464.4" fill="#1c1c1c"/>
<polygon points="181,539.6 178.95,532.1 183.05,532.1" fill="#1c1c1c"/>
<line x1="162.2" y1="539.5" x2="186" y2="539.5" stroke="#1c1c1c" stroke-width="0.6"/>
<text x="0" y="0" font-size="9.5" text-anchor="middle" fill="#111" stroke="#111" stroke-width="0.15" transform="translate(178.2 498.3) rotate(-90)">40</text>
<line x1="141.5" y1="517.7" x2="141.5" y2="495" stroke="#1c1c1c" stroke-width="0.6"/>
<line x1="155.5" y1="517.7" x2="155.5" y2="495" stroke="#1c1c1c" stroke-width="0.6"/>
<line x1="120" y1="498.5" x2="141.3" y2="498.5" stroke="#1c1c1c" stroke-width="0.8"/>
<polygon points="141.3,498.8 133.8,500.85 133.8,496.75" fill="#1c1c1c"/>
<line x1="155.1" y1="498.5" x2="170" y2="498.5" stroke="#1c1c1c" stroke-width="0.8"/>
<polygon points="155.1,498.8 162.6,496.75 162.6,500.85" fill="#1c1c1c"/>
<text x="0" y="0" font-size="9.5" text-anchor="start" fill="#111" stroke="#111" stroke-width="0.15" transform="translate(120.5 496.8)">Ø7</text>
<text x="0" y="0" font-size="9.5" text-anchor="start" fill="#111" stroke="#111" stroke-width="0.15" transform="translate(106 527.5)">Ø3,2</text>
<line x1="104" y1="529.5" x2="128.5" y2="529.5" stroke="#1c1c1c" stroke-width="0.8"/>
<text x="0" y="0" font-size="9" text-anchor="start" fill="#111" stroke="#111" stroke-width="0.15" transform="translate(104 538.6)">2 отв.</text>
<line x1="128.5" y1="529.3" x2="136" y2="536.5" stroke="#1c1c1c" stroke-width="0.8"/>
<polygon points="136,536.5 129.17,532.78 132.01,529.83" fill="#1c1c1c"/>
<line x1="141.3" y1="542.7" x2="147.5" y2="548.8" stroke="#1c1c1c" stroke-width="0.8"/>
<polygon points="141.3,542.7 148.08,546.5 145.21,549.42" fill="#1c1c1c"/>
<line x1="138.5" y1="543" x2="138.5" y2="588" stroke="#1c1c1c" stroke-width="0.6"/>
<line x1="158.5" y1="543" x2="158.5" y2="588" stroke="#1c1c1c" stroke-width="0.6"/>
<line x1="138.2" y1="584.5" x2="158.2" y2="584.5" stroke="#1c1c1c" stroke-width="0.8"/>
<polygon points="138.2,584 145.7,581.95 145.7,586.05" fill="#1c1c1c"/>
<polygon points="158.2,584 150.7,586.05 150.7,581.95" fill="#1c1c1c"/>
<text x="0" y="0" font-size="9.5" text-anchor="middle" fill="#111" stroke="#111" stroke-width="0.15" transform="translate(148.7 581)">10</text>
<line x1="148.2" y1="517.7" x2="193" y2="562.6" stroke="#1c1c1c" stroke-width="0.7"/>
<polygon points="183.56,553.06 176.8,549.2 179.7,546.3" fill="#1c1c1c"/>
<line x1="193" y1="562.5" x2="212" y2="562.5" stroke="#1c1c1c" stroke-width="0.7"/>
<text x="0" y="0" font-size="9.5" text-anchor="start" fill="#111" stroke="#111" stroke-width="0.15" transform="translate(194.5 561)">R25</text>
<line x1="158.7" y1="543.5" x2="181" y2="603.5" stroke="#1c1c1c" stroke-width="0.7"/>
<polygon points="177.2,593.5 172.67,587.18 176.52,585.75" fill="#1c1c1c"/>
<line x1="181" y1="603.5" x2="199" y2="603.5" stroke="#1c1c1c" stroke-width="0.7"/>
<text x="0" y="0" font-size="9.5" text-anchor="start" fill="#111" stroke="#111" stroke-width="0.15" transform="translate(182.5 602)">R40</text>
<line x1="137.2" y1="543.5" x2="104" y2="627.5" stroke="#1c1c1c" stroke-width="0.7"/>
<polygon points="107.5,620.5 108.29,612.76 112.11,614.24" fill="#1c1c1c"/>
<line x1="83" y1="632.5" x2="104" y2="632.5" stroke="#1c1c1c" stroke-width="0.7"/>
<line x1="104.5" y1="632.8" x2="104.5" y2="627.5" stroke="#1c1c1c" stroke-width="0.7"/>
<text x="0" y="0" font-size="9.5" text-anchor="start" fill="#111" stroke="#111" stroke-width="0.15" transform="translate(84 630.5)">R55</text>
<line x1="143.2" y1="522.7" x2="40.5" y2="629.4" stroke="#1c1c1c" stroke-width="0.7"/>
<polygon points="51,618.5 54.73,611.68 57.68,614.52" fill="#1c1c1c"/>
<line x1="19" y1="629.5" x2="40.5" y2="629.5" stroke="#1c1c1c" stroke-width="0.7"/>
<text x="0" y="0" font-size="9.5" text-anchor="start" fill="#111" stroke="#111" stroke-width="0.15" transform="translate(20 627.5)">R70</text>
<line x1="243" y1="478.5" x2="263" y2="478.5" stroke="#1c1c1c" stroke-width="0.7"/>
<line x1="263" y1="478.9" x2="275.8" y2="463.5" stroke="#1c1c1c" stroke-width="0.7"/>
<polygon points="275.8,463.5 272.58,470.58 269.43,467.96" fill="#1c1c1c"/>
<text x="0" y="0" font-size="9.5" text-anchor="start" fill="#111" stroke="#111" stroke-width="0.15" transform="translate(244 477.3)">R10</text>
<line x1="229.45" y1="517.7" x2="256" y2="489.3" stroke="#1c1c1c" stroke-width="0.7"/>
<polygon points="250.65,496.5 246.8,503.25 243.9,500.35" fill="#1c1c1c"/>
<line x1="256" y1="489.5" x2="274" y2="489.5" stroke="#1c1c1c" stroke-width="0.7"/>
<text x="0" y="0" font-size="9.5" text-anchor="start" fill="#111" stroke="#111" stroke-width="0.15" transform="translate(258 487.8)">R15</text>
<text x="0" y="0" font-size="9.5" text-anchor="start" fill="#111" stroke="#111" stroke-width="0.15" transform="translate(241 450.5)">s1,5</text>
<line x1="238" y1="452.5" x2="258.5" y2="452.5" stroke="#1c1c1c" stroke-width="0.7"/>
<polyline points="238,452 229,463.5" fill="none" stroke="#1c1c1c" stroke-width="0.8"/>
<circle cx="229" cy="463.5" r="1.1" fill="#1c1c1c"/>
<text x="0" y="0" font-size="11" text-anchor="middle" fill="#111" stroke="#111" stroke-width="0" transform="translate(348.8 312)" font-style="italic" font-family="Liberation Serif">I</text>
<line x1="343" y1="313.5" x2="354.5" y2="313.5" stroke="#1c1c1c" stroke-width="0.7"/>
<rect x="345.5" y="339.5" width="4" height="113" fill="#fff" stroke="#1c1c1c" stroke-width="1.2"/>
<rect x="353.5" y="339.5" width="4" height="113" fill="#fff" stroke="#1c1c1c" stroke-width="1.2"/>
<rect x="337.5" y="371.5" width="8" height="49" fill="none" stroke="#1c1c1c" stroke-width="1.2"/>
<rect x="357.5" y="371.5" width="8" height="49" fill="none" stroke="#1c1c1c" stroke-width="1.2"/>
<rect x="328.5" y="381.5" width="9" height="29" fill="none" stroke="#1c1c1c" stroke-width="1.1"/>
<rect x="365.5" y="381.5" width="11" height="29" fill="none" stroke="#1c1c1c" stroke-width="1.1"/>
<line x1="349.3" y1="381.5" x2="353.4" y2="381.5" stroke="#1c1c1c" stroke-width="0.6"/>
<line x1="349.3" y1="410.5" x2="353.4" y2="410.5" stroke="#1c1c1c" stroke-width="0.6"/>
<line x1="318" y1="395.5" x2="384" y2="395.5" stroke="#1c1c1c" stroke-width="0.5" stroke-dasharray="6 1.5 1 1.5"/>
<line x1="349.5" y1="452.7" x2="349.5" y2="482" stroke="#1c1c1c" stroke-width="0.9" stroke-dasharray="3 1.5"/>
<line x1="353.5" y1="452.7" x2="353.5" y2="482" stroke="#1c1c1c" stroke-width="0.9" stroke-dasharray="3 1.5"/>
<line x1="290" y1="339.5" x2="345.2" y2="339.5" stroke="#1c1c1c" stroke-width="0.6"/>
<line x1="290" y1="452.5" x2="345.2" y2="452.5" stroke="#1c1c1c" stroke-width="0.6"/>
<line x1="302" y1="371.5" x2="337" y2="371.5" stroke="#1c1c1c" stroke-width="0.6"/>
<line x1="302" y1="420.5" x2="337" y2="420.5" stroke="#1c1c1c" stroke-width="0.6"/>
<line x1="314.5" y1="381.5" x2="328.3" y2="381.5" stroke="#1c1c1c" stroke-width="0.6"/>
<line x1="314.5" y1="410.5" x2="328.3" y2="410.5" stroke="#1c1c1c" stroke-width="0.6"/>
<line x1="291.5" y1="339" x2="291.5" y2="452.7" stroke="#1c1c1c" stroke-width="0.8"/>
<polygon points="291.4,339 293.45,346.5 289.35,346.5" fill="#1c1c1c"/>
<polygon points="291.4,452.7 289.35,445.2 293.45,445.2" fill="#1c1c1c"/>
<text x="0" y="0" font-size="9" text-anchor="middle" fill="#111" stroke="#111" stroke-width="0.15" transform="translate(289.8 396) rotate(-90)">Ø28</text>
<line x1="304.5" y1="371" x2="304.5" y2="420.3" stroke="#1c1c1c" stroke-width="0.8"/>
<polygon points="304,371 306.05,378.5 301.95,378.5" fill="#1c1c1c"/>
<polygon points="304,420.3 301.95,412.8 306.05,412.8" fill="#1c1c1c"/>
<text x="0" y="0" font-size="9" text-anchor="middle" fill="#111" stroke="#111" stroke-width="0.15" transform="translate(302.3 396) rotate(-90)">Ø12</text>
<line x1="316.5" y1="381.6" x2="316.5" y2="410" stroke="#1c1c1c" stroke-width="0.8"/>
<polygon points="316.4,381.6 318.45,389.1 314.35,389.1" fill="#1c1c1c"/>
<polygon points="316.4,410 314.35,402.5 318.45,402.5" fill="#1c1c1c"/>
<text x="0" y="0" font-size="9" text-anchor="middle" fill="#111" stroke="#111" stroke-width="0.15" transform="translate(314.5 396) rotate(-90)">Ø7</text>
<line x1="337.5" y1="322" x2="337.5" y2="371" stroke="#1c1c1c" stroke-width="0.6"/>
<line x1="345.5" y1="322" x2="345.5" y2="339" stroke="#1c1c1c" stroke-width="0.6"/>
<line x1="349.5" y1="322" x2="349.5" y2="339" stroke="#1c1c1c" stroke-width="0.6"/>
<line x1="353.5" y1="322" x2="353.5" y2="339" stroke="#1c1c1c" stroke-width="0.6"/>
<line x1="357.5" y1="322" x2="357.5" y2="339" stroke="#1c1c1c" stroke-width="0.6"/>
<line x1="325" y1="326.5" x2="337" y2="326.5" stroke="#1c1c1c" stroke-width="0.7"/>
<polygon points="337,326.4 329.5,328.45 329.5,324.35" fill="#1c1c1c"/>
<polygon points="345.2,326.4 352.7,324.35 352.7,328.45" fill="#1c1c1c"/>
<line x1="345.2" y1="326.5" x2="349.3" y2="326.5" stroke="#1c1c1c" stroke-width="0.7"/>
<line x1="357.6" y1="326.5" x2="368" y2="326.5" stroke="#1c1c1c" stroke-width="0.7"/>
<polygon points="357.6,326.4 365.1,324.35 365.1,328.45" fill="#1c1c1c"/>
<polygon points="353.4,326.4 345.9,328.45 345.9,324.35" fill="#1c1c1c"/>
<text x="0" y="0" font-size="9" text-anchor="middle" fill="#111" stroke="#111" stroke-width="0.15" transform="translate(340.7 324.5)">2</text>
<text x="0" y="0" font-size="9" text-anchor="middle" fill="#111" stroke="#111" stroke-width="0.15" transform="translate(360.5 324.5)">1</text>
<line x1="345.5" y1="452.7" x2="345.5" y2="468" stroke="#1c1c1c" stroke-width="0.6"/>
<line x1="357.5" y1="420.3" x2="357.5" y2="468" stroke="#1c1c1c" stroke-width="0.6"/>
<line x1="365.5" y1="420.3" x2="365.5" y2="437" stroke="#1c1c1c" stroke-width="0.6"/>
<line x1="336" y1="433.5" x2="345.2" y2="433.5" stroke="#1c1c1c" stroke-width="0.7"/>
<polygon points="345.2,433 337.7,435.05 337.7,430.95" fill="#1c1c1c"/>
<polygon points="349.3,433 356.8,430.95 356.8,435.05" fill="#1c1c1c"/>
<text x="0" y="0" font-size="9" text-anchor="middle" fill="#111" stroke="#111" stroke-width="0.15" transform="translate(341.5 430.5)">1</text>
<line x1="357.6" y1="433.5" x2="374" y2="433.5" stroke="#1c1c1c" stroke-width="0.7"/>
<polygon points="357.6,433 365.1,430.95 365.1,435.05" fill="#1c1c1c"/>
<polygon points="365.3,433 372.8,430.95 372.8,435.05" fill="#1c1c1c"/>
<text x="0" y="0" font-size="9" text-anchor="middle" fill="#111" stroke="#111" stroke-width="0.15" transform="translate(361.8 430.5)">2</text>
<line x1="338" y1="445.5" x2="345.2" y2="445.5" stroke="#1c1c1c" stroke-width="0.7"/>
<polygon points="345.2,445 337.7,447.05 337.7,442.95" fill="#1c1c1c"/>
<line x1="357.6" y1="445.5" x2="378" y2="445.5" stroke="#1c1c1c" stroke-width="0.7"/>
<polygon points="357.6,445 365.1,442.95 365.1,447.05" fill="#1c1c1c"/>
<text x="0" y="0" font-size="9" text-anchor="middle" fill="#111" stroke="#111" stroke-width="0.15" transform="translate(368 443)">1,2</text>
<text x="0" y="0" font-size="9.7" text-anchor="start" fill="#111" stroke="#111" stroke-width="0.15" transform="translate(388 335.3) scale(0.86 1)">27</text>
<text x="0" y="0" font-size="9.7" text-anchor="start" fill="#111" stroke="#111" stroke-width="0.15" transform="translate(388 358) scale(0.86 1)">28</text>
<text x="0" y="0" font-size="9.7" text-anchor="start" fill="#111" stroke="#111" stroke-width="0.15" transform="translate(389.5 419.5) scale(0.86 1)">3</text>
<text x="0" y="0" font-size="9.7" text-anchor="start" fill="#111" stroke="#111" stroke-width="0.15" transform="translate(388 446.8) scale(0.86 1)">29</text>
<text x="0" y="0" font-size="9.7" text-anchor="start" fill="#111" stroke="#111" stroke-width="0.15" transform="translate(388 480) scale(0.86 1)">12</text>
<polyline points="386,333 349.3,356" fill="none" stroke="#1c1c1c" stroke-width="0.8"/>
<polyline points="386,333 357.6,366" fill="none" stroke="#1c1c1c" stroke-width="0.8"/>
<polyline points="386,355 352,382" fill="none" stroke="#1c1c1c" stroke-width="0.8"/>
<polyline points="386,355 365.3,382" fill="none" stroke="#1c1c1c" stroke-width="0.8"/>
<polyline points="388,413 374,399" fill="none" stroke="#1c1c1c" stroke-width="0.8"/>
<polyline points="386,441 350.5,404" fill="none" stroke="#1c1c1c" stroke-width="0.8"/>
<polyline points="386,477 353,466" fill="none" stroke="#1c1c1c" stroke-width="0.8"/>
<circle cx="430.3" cy="314.6" r="6.6" fill="none" stroke="#1c1c1c" stroke-width="1.15"/>
<text x="0" y="0" font-size="9.6" text-anchor="middle" fill="#111" stroke="#111" stroke-width="0.15" transform="translate(430.3 318.01) scale(1.0 1)">7</text>
<rect x="454.5" y="330.5" width="41" height="71" fill="none" stroke="#1c1c1c" stroke-width="1.2"/>
<rect x="454.5" y="381.5" width="18" height="7" fill="url(#hat2)" stroke="#1c1c1c" stroke-width="0.9"/>
<rect x="478.5" y="381.5" width="17" height="7" fill="url(#hat2)" stroke="#1c1c1c" stroke-width="0.9"/>
<rect x="454.5" y="394.5" width="18" height="7" fill="url(#hat2)" stroke="#1c1c1c" stroke-width="0.9"/>
<rect x="478.5" y="394.5" width="17" height="7" fill="url(#hat2)" stroke="#1c1c1c" stroke-width="0.9"/>
<path d="M472.5,401.7 L472.5,365 A7.3,7.3 0 1 1 478.3,365 L478.3,401.7" fill="none" stroke="#1c1c1c" stroke-width="1.1"/>
<line x1="475.5" y1="348" x2="475.5" y2="420" stroke="#1c1c1c" stroke-width="0.5" stroke-dasharray="6 1.5 1 1.5"/>
<line x1="462" y1="358.5" x2="490" y2="358.5" stroke="#1c1c1c" stroke-width="0.5" stroke-dasharray="6 1.5 1 1.5"/>
<line x1="447" y1="391.5" x2="500" y2="391.5" stroke="#1c1c1c" stroke-width="0.5" stroke-dasharray="6 1.5 1 1.5"/>
<polygon points="464.5,337.2 468.1,340.8 464.5,344.4 460.9,340.8" fill="#3a3a3a" stroke="#1c1c1c" stroke-width="0.9"/>
<line x1="459.9" y1="340.5" x2="469.1" y2="340.5" stroke="#1c1c1c" stroke-width="0.7"/>
<line x1="464.5" y1="336.2" x2="464.5" y2="345.4" stroke="#1c1c1c" stroke-width="0.7"/>
<polygon points="485,337.2 488.6,340.8 485,344.4 481.4,340.8" fill="#3a3a3a" stroke="#1c1c1c" stroke-width="0.9"/>
<line x1="480.4" y1="340.5" x2="489.6" y2="340.5" stroke="#1c1c1c" stroke-width="0.7"/>
<line x1="485.5" y1="336.2" x2="485.5" y2="345.4" stroke="#1c1c1c" stroke-width="0.7"/>
<line x1="448" y1="340.5" x2="508" y2="340.5" stroke="#1c1c1c" stroke-width="0.5" stroke-dasharray="6 1.5 1 1.5"/>
<line x1="454.5" y1="302" x2="454.5" y2="330" stroke="#1c1c1c" stroke-width="0.6"/>
<line x1="495.5" y1="302" x2="495.5" y2="330" stroke="#1c1c1c" stroke-width="0.6"/>
<line x1="454.8" y1="305.5" x2="495.3" y2="305.5" stroke="#1c1c1c" stroke-width="0.8"/>
<polygon points="454.8,305.8 462.3,303.75 462.3,307.85" fill="#1c1c1c"/>
<polygon points="495.3,305.8 487.8,307.85 487.8,303.75" fill="#1c1c1c"/>
<text x="0" y="0" font-size="9.5" text-anchor="middle" fill="#111" stroke="#111" stroke-width="0.15" transform="translate(475 304)">20</text>
<line x1="464.5" y1="315" x2="464.5" y2="338" stroke="#1c1c1c" stroke-width="0.6"/>
<line x1="485.5" y1="315" x2="485.5" y2="338" stroke="#1c1c1c" stroke-width="0.6"/>
<line x1="446" y1="318.5" x2="454.8" y2="318.5" stroke="#1c1c1c" stroke-width="0.7"/>
<polygon points="454.8,318 447.3,320.05 447.3,315.95" fill="#1c1c1c"/>
<line x1="464.5" y1="318.5" x2="485" y2="318.5" stroke="#1c1c1c" stroke-width="0.8"/>
<polygon points="464.5,318 472,315.95 472,320.05" fill="#1c1c1c"/>
<polygon points="485,318 477.5,320.05 477.5,315.95" fill="#1c1c1c"/>
<polygon points="464.5,318 457,320.05 457,315.95" fill="#1c1c1c"/>
<text x="0" y="0" font-size="9.5" text-anchor="middle" fill="#111" stroke="#111" stroke-width="0.15" transform="translate(459.5 316.5)">5</text>
<text x="0" y="0" font-size="9.5" text-anchor="middle" fill="#111" stroke="#111" stroke-width="0.15" transform="translate(474.5 316.5)">10</text>
<line x1="423" y1="330.5" x2="454.8" y2="330.5" stroke="#1c1c1c" stroke-width="0.6"/>
<line x1="423" y1="358.5" x2="468" y2="358.5" stroke="#1c1c1c" stroke-width="0.6"/>
<line x1="427.5" y1="330" x2="427.5" y2="358.7" stroke="#1c1c1c" stroke-width="0.8"/>
<polygon points="427,330 429.05,337.5 424.95,337.5" fill="#1c1c1c"/>
<polygon points="427,358.7 424.95,351.2 429.05,351.2" fill="#1c1c1c"/>
<text x="0" y="0" font-size="9.5" text-anchor="middle" fill="#111" stroke="#111" stroke-width="0.15" transform="translate(425 344.3) rotate(-90)">14</text>
<text x="0" y="0" font-size="9.5" text-anchor="start" fill="#111" stroke="#111" stroke-width="0.15" transform="translate(437 348.3)">M3</text>
<line x1="430" y1="350.5" x2="452" y2="350.5" stroke="#1c1c1c" stroke-width="0.7"/>
<text x="0" y="0" font-size="9" text-anchor="start" fill="#111" stroke="#111" stroke-width="0.15" transform="translate(430.5 358.5)">2 отв.</text>
<line x1="436" y1="350.5" x2="452" y2="350.5" stroke="#1c1c1c" stroke-width="0.7"/>
<line x1="452" y1="350.5" x2="475" y2="331.5" stroke="#1c1c1c" stroke-width="0.7"/>
<polygon points="461.6,344.3 456.41,350.09 454.19,346.65" fill="#1c1c1c"/>
<polygon points="468.2,337.3 472.58,330.87 475.24,333.99" fill="#1c1c1c"/>
<line x1="476.5" y1="354.5" x2="483.4" y2="346.5" stroke="#1c1c1c" stroke-width="0.7"/>
<polygon points="483.4,346.5 480.05,353.52 476.95,350.84" fill="#1c1c1c"/>
<text x="0" y="0" font-size="9.5" text-anchor="start" fill="#111" stroke="#111" stroke-width="0.15" transform="translate(448 374)">Ø7</text>
<line x1="447" y1="376.5" x2="458" y2="376.5" stroke="#1c1c1c" stroke-width="0.7"/>
<polyline points="458,376 471,366" fill="none" stroke="#1c1c1c" stroke-width="0.8"/>
<polygon points="471,366 466.31,372.2 463.81,368.95" fill="#1c1c1c"/>
<line x1="495.3" y1="330.5" x2="512" y2="330.5" stroke="#1c1c1c" stroke-width="0.6"/>
<line x1="489" y1="340.5" x2="512" y2="340.5" stroke="#1c1c1c" stroke-width="0.6"/>
<line x1="504.5" y1="322" x2="504.5" y2="346" stroke="#1c1c1c" stroke-width="0.7"/>
<polygon points="504.5,330 502.45,322.5 506.55,322.5" fill="#1c1c1c"/>
<polygon points="504.5,340.5 506.55,348 502.45,348" fill="#1c1c1c"/>
<text x="0" y="0" font-size="9.5" text-anchor="middle" fill="#111" stroke="#111" stroke-width="0.15" transform="translate(506 335.5) rotate(-90)">5</text>
<line x1="505.5" y1="356" x2="505.5" y2="400" stroke="#1c1c1c" stroke-width="0.7"/>
<polygon points="505,381.8 502.95,374.3 507.05,374.3" fill="#1c1c1c"/>
<polygon points="505,388.6 507.05,396.1 502.95,396.1" fill="#1c1c1c"/>
<text x="0" y="0" font-size="9" text-anchor="middle" fill="#111" stroke="#111" stroke-width="0.15" transform="translate(506 368.5) rotate(-90)">Ø3,2</text>
<line x1="495.3" y1="381.5" x2="510" y2="381.5" stroke="#1c1c1c" stroke-width="0.6"/>
<line x1="495.3" y1="388.5" x2="510" y2="388.5" stroke="#1c1c1c" stroke-width="0.6"/>
<line x1="420" y1="381.5" x2="454.8" y2="381.5" stroke="#1c1c1c" stroke-width="0.6"/>
<line x1="420" y1="401.5" x2="454.8" y2="401.5" stroke="#1c1c1c" stroke-width="0.6"/>
<line x1="427.5" y1="372" x2="427.5" y2="410" stroke="#1c1c1c" stroke-width="0.7"/>
<polygon points="427,381 424.95,373.5 429.05,373.5" fill="#1c1c1c"/>
<polygon points="427,401.7 429.05,409.2 424.95,409.2" fill="#1c1c1c"/>
<text x="0" y="0" font-size="9.5" text-anchor="middle" fill="#111" stroke="#111" stroke-width="0.15" transform="translate(425 396) rotate(-90)">5</text>
<line x1="443.5" y1="380" x2="443.5" y2="420" stroke="#1c1c1c" stroke-width="0.7"/>
<polygon points="443,388.6 440.95,381.1 445.05,381.1" fill="#1c1c1c"/>
<polygon points="443,394.3 445.05,401.8 440.95,401.8" fill="#1c1c1c"/>
<line x1="437" y1="388.5" x2="454.8" y2="388.5" stroke="#1c1c1c" stroke-width="0.6"/>
<line x1="437" y1="394.5" x2="454.8" y2="394.5" stroke="#1c1c1c" stroke-width="0.6"/>
<text x="0" y="0" font-size="9" text-anchor="middle" fill="#111" stroke="#111" stroke-width="0.15" transform="translate(441 409) rotate(-90)">M3</text>
<line x1="472.5" y1="401.7" x2="472.5" y2="418" stroke="#1c1c1c" stroke-width="0.6"/>
<line x1="478.5" y1="401.7" x2="478.5" y2="418" stroke="#1c1c1c" stroke-width="0.6"/>
<line x1="462" y1="414.5" x2="500" y2="414.5" stroke="#1c1c1c" stroke-width="0.7"/>
<polygon points="472.5,414 465,416.05 465,411.95" fill="#1c1c1c"/>
<polygon points="478.3,414 485.8,411.95 485.8,416.05" fill="#1c1c1c"/>
<text x="0" y="0" font-size="9.5" text-anchor="middle" fill="#111" stroke="#111" stroke-width="0.15" transform="translate(490.5 412.3)">3</text>
<rect x="527.5" y="330.5" width="13" height="71" fill="none" stroke="#1c1c1c" stroke-width="1.2"/>
<line x1="527" y1="340.5" x2="540" y2="340.5" stroke="#1c1c1c" stroke-width="0.8" stroke-dasharray="3 1.5"/>
<line x1="527" y1="352.5" x2="540" y2="352.5" stroke="#1c1c1c" stroke-width="0.8" stroke-dasharray="3 1.5"/>
<line x1="527" y1="358.5" x2="540" y2="358.5" stroke="#1c1c1c" stroke-width="0.8" stroke-dasharray="3 1.5"/>
<line x1="527" y1="367.5" x2="540" y2="367.5" stroke="#1c1c1c" stroke-width="0.8" stroke-dasharray="3 1.5"/>
<polygon points="533.5,387.2 537.1,390.8 533.5,394.4 529.9,390.8" fill="#3a3a3a" stroke="#1c1c1c" stroke-width="0.9"/>
<line x1="528.9" y1="390.5" x2="538.1" y2="390.5" stroke="#1c1c1c" stroke-width="0.7"/>
<line x1="533.5" y1="386.2" x2="533.5" y2="395.4" stroke="#1c1c1c" stroke-width="0.7"/>
<line x1="527.5" y1="315" x2="527.5" y2="330" stroke="#1c1c1c" stroke-width="0.6"/>
<line x1="540.5" y1="315" x2="540.5" y2="330" stroke="#1c1c1c" stroke-width="0.6"/>
<line x1="518" y1="318.5" x2="549" y2="318.5" stroke="#1c1c1c" stroke-width="0.7"/>
<polygon points="527,318 519.5,320.05 519.5,315.95" fill="#1c1c1c"/>
<polygon points="540,318 547.5,315.95 547.5,320.05" fill="#1c1c1c"/>
<text x="0" y="0" font-size="9.5" text-anchor="middle" fill="#111" stroke="#111" stroke-width="0.15" transform="translate(533.5 316.5)">6</text>
<line x1="540" y1="330.5" x2="556" y2="330.5" stroke="#1c1c1c" stroke-width="0.6"/>
<line x1="540" y1="401.5" x2="556" y2="401.5" stroke="#1c1c1c" stroke-width="0.6"/>
<line x1="552.5" y1="330" x2="552.5" y2="401.7" stroke="#1c1c1c" stroke-width="0.8"/>
<polygon points="552,330 554.05,337.5 549.95,337.5" fill="#1c1c1c"/>
<polygon points="552,401.7 549.95,394.2 554.05,394.2" fill="#1c1c1c"/>
<text x="0" y="0" font-size="9.5" text-anchor="middle" fill="#111" stroke="#111" stroke-width="0.15" transform="translate(549.8 366) rotate(-90)">35</text>
<line x1="531.5" y1="401.7" x2="531.5" y2="418" stroke="#1c1c1c" stroke-width="0.6"/>
<line x1="536.5" y1="401.7" x2="536.5" y2="418" stroke="#1c1c1c" stroke-width="0.6"/>
<line x1="522" y1="414.5" x2="552" y2="414.5" stroke="#1c1c1c" stroke-width="0.7"/>
<polygon points="531,414 523.5,416.05 523.5,411.95" fill="#1c1c1c"/>
<polygon points="536,414 543.5,411.95 543.5,416.05" fill="#1c1c1c"/>
<text x="0" y="0" font-size="9.5" text-anchor="middle" fill="#111" stroke="#111" stroke-width="0.15" transform="translate(546.5 412.3)">3</text>
<circle cx="586.2" cy="314.8" r="6.6" fill="none" stroke="#1c1c1c" stroke-width="1.15"/>
<text x="0" y="0" font-size="9.6" text-anchor="middle" fill="#111" stroke="#111" stroke-width="0.15" transform="translate(586.2 318.21) scale(0.88 1)">10</text>
<line x1="604.5" y1="324.4" x2="604.5" y2="364" stroke="#1c1c1c" stroke-width="1.2"/>
<line x1="645.5" y1="324.4" x2="645.5" y2="364" stroke="#1c1c1c" stroke-width="1.2"/>
<line x1="604.4" y1="324.5" x2="645.4" y2="324.5" stroke="#1c1c1c" stroke-width="1.2"/>
<polyline points="604.4,363.8 606.35,364.01 608.3,364.2 610.26,364.36 612.21,364.46 614.16,364.5 616.11,364.47 618.07,364.39 620.02,364.24 621.97,364.06 623.92,363.85 625.88,363.64 627.83,363.44 629.78,363.28 631.73,363.16 633.69,363.1 635.64,363.11 637.59,363.19 639.54,363.32 641.5,363.49 643.45,363.7 645.4,363.91" fill="none" stroke="#1c1c1c" stroke-width="1.0"/>
<polyline points="604.4,367 606.35,367.21 608.3,367.4 610.26,367.56 612.21,367.66 614.16,367.7 616.11,367.67 618.07,367.59 620.02,367.44 621.97,367.26 623.92,367.05 625.88,366.84 627.83,366.64 629.78,366.48 631.73,366.36 633.69,366.3 635.64,366.31 637.59,366.39 639.54,366.52 641.5,366.69 643.45,366.9 645.4,367.11" fill="none" stroke="#1c1c1c" stroke-width="1.0"/>
<line x1="604.5" y1="367" x2="604.5" y2="393.7" stroke="#1c1c1c" stroke-width="1.2"/>
<line x1="645.5" y1="367" x2="645.5" y2="393.7" stroke="#1c1c1c" stroke-width="1.2"/>
<line x1="604.4" y1="393.5" x2="645.4" y2="393.5" stroke="#1c1c1c" stroke-width="1.2"/>
<line x1="604.5" y1="297" x2="604.5" y2="324.4" stroke="#1c1c1c" stroke-width="0.6"/>
<line x1="645.5" y1="297" x2="645.5" y2="324.4" stroke="#1c1c1c" stroke-width="0.6"/>
<line x1="604.4" y1="300.5" x2="645.4" y2="300.5" stroke="#1c1c1c" stroke-width="0.8"/>
<polygon points="604.4,300.2 611.9,298.15 611.9,302.25" fill="#1c1c1c"/>
<polygon points="645.4,300.2 637.9,302.25 637.9,298.15" fill="#1c1c1c"/>
<text x="0" y="0" font-size="9.5" text-anchor="middle" fill="#111" stroke="#111" stroke-width="0.15" transform="translate(625.5 298.5)">20</text>
<line x1="624.5" y1="310" x2="624.5" y2="363" stroke="#1c1c1c" stroke-width="0.8"/>
<line x1="624.5" y1="368" x2="624.5" y2="378" stroke="#1c1c1c" stroke-width="0.8" stroke-dasharray="3 1.5"/>
<line x1="624.2" y1="313.5" x2="645.4" y2="313.5" stroke="#1c1c1c" stroke-width="0.8"/>
<polygon points="624.2,313.3 631.7,311.25 631.7,315.35" fill="#1c1c1c"/>
<polygon points="645.4,313.3 637.9,315.35 637.9,311.25" fill="#1c1c1c"/>
<text x="0" y="0" font-size="9.5" text-anchor="middle" fill="#111" stroke="#111" stroke-width="0.15" transform="translate(634 311.2)">10</text>
<text x="0" y="0" font-size="8.5" text-anchor="start" fill="#111" stroke="#111" stroke-width="0.15" transform="translate(626 348.3)">Риска</text>
<polyline points="626,352 624.5,357" fill="none" stroke="#1c1c1c" stroke-width="0.8"/>
<polygon points="624.5,357 624.69,349.23 628.62,350.41" fill="#1c1c1c"/>
<circle cx="614.1" cy="383.6" r="3" fill="none" stroke="#1c1c1c" stroke-width="1.1"/>
<line x1="609.6" y1="383.5" x2="618.6" y2="383.5" stroke="#1c1c1c" stroke-width="0.5"/>
<line x1="614.5" y1="379.1" x2="614.5" y2="388.1" stroke="#1c1c1c" stroke-width="0.5"/>
<circle cx="634.7" cy="383.6" r="3" fill="none" stroke="#1c1c1c" stroke-width="1.1"/>
<line x1="630.2" y1="383.5" x2="639.2" y2="383.5" stroke="#1c1c1c" stroke-width="0.5"/>
<line x1="634.5" y1="379.1" x2="634.5" y2="388.1" stroke="#1c1c1c" stroke-width="0.5"/>
<line x1="638" y1="383.5" x2="660" y2="383.5" stroke="#1c1c1c" stroke-width="0.6"/>
<text x="0" y="0" font-size="9.5" text-anchor="start" fill="#111" stroke="#111" stroke-width="0.15" transform="translate(579 368.6)">Ø3,2</text>
<line x1="577" y1="370.5" x2="598" y2="370.5" stroke="#1c1c1c" stroke-width="0.7"/>
<text x="0" y="0" font-size="9" text-anchor="start" fill="#111" stroke="#111" stroke-width="0.15" transform="translate(577.5 378.3)">2 отв.</text>
<polyline points="598,370.3 610.5,380.5" fill="none" stroke="#1c1c1c" stroke-width="0.8"/>
<polygon points="610.5,380.5 603.39,377.35 605.99,374.17" fill="#1c1c1c"/>
<polygon points="617.5,387 624.4,390.58 621.62,393.59" fill="#1c1c1c"/>
<line x1="617.5" y1="387" x2="624" y2="393" stroke="#1c1c1c" stroke-width="0.7"/>
<line x1="645.4" y1="393.5" x2="668" y2="393.5" stroke="#1c1c1c" stroke-width="0.6"/>
<line x1="645.4" y1="324.5" x2="668" y2="324.5" stroke="#1c1c1c" stroke-width="0.6"/>
<line x1="665.5" y1="324.4" x2="665.5" y2="393.7" stroke="#1c1c1c" stroke-width="0.8"/>
<polygon points="665.4,324.4 667.45,331.9 663.35,331.9" fill="#1c1c1c"/>
<polygon points="665.4,393.7 663.35,386.2 667.45,386.2" fill="#1c1c1c"/>
<text x="0" y="0" font-size="9.5" text-anchor="middle" fill="#111" stroke="#111" stroke-width="0.15" transform="translate(663.3 359) rotate(-90)">70</text>
<line x1="655.5" y1="372" x2="655.5" y2="412" stroke="#1c1c1c" stroke-width="0.7"/>
<polygon points="655,383.6 652.95,376.1 657.05,376.1" fill="#1c1c1c"/>
<polygon points="655,393.7 657.05,401.2 652.95,401.2" fill="#1c1c1c"/>
<text x="0" y="0" font-size="9.5" text-anchor="middle" fill="#111" stroke="#111" stroke-width="0.15" transform="translate(653.3 371) rotate(-90)">5</text>
<line x1="614.5" y1="387" x2="614.5" y2="410" stroke="#1c1c1c" stroke-width="0.6"/>
<line x1="634.5" y1="387" x2="634.5" y2="410" stroke="#1c1c1c" stroke-width="0.6"/>
<line x1="645.5" y1="393.7" x2="645.5" y2="410" stroke="#1c1c1c" stroke-width="0.6"/>
<line x1="614.1" y1="407.5" x2="652" y2="407.5" stroke="#1c1c1c" stroke-width="0.7"/>
<polygon points="614.1,407.7 621.6,405.65 621.6,409.75" fill="#1c1c1c"/>
<polygon points="634.7,407.7 627.2,409.75 627.2,405.65" fill="#1c1c1c"/>
<polygon points="645.4,407.7 652.9,405.65 652.9,409.75" fill="#1c1c1c"/>
<text x="0" y="0" font-size="9.5" text-anchor="middle" fill="#111" stroke="#111" stroke-width="0.15" transform="translate(624.2 404.3)">10</text>
<text x="0" y="0" font-size="9.5" text-anchor="middle" fill="#111" stroke="#111" stroke-width="0.15" transform="translate(639 404.3)">5</text>
<circle cx="426.4" cy="454.7" r="6.6" fill="none" stroke="#1c1c1c" stroke-width="1.15"/>
<text x="0" y="0" font-size="9.6" text-anchor="middle" fill="#111" stroke="#111" stroke-width="0.15" transform="translate(426.4 458.11) scale(1.0 1)">3</text>
<rect x="456.5" y="447.5" width="152" height="15" fill="none" stroke="#1c1c1c" stroke-width="1.2"/>
<line x1="448" y1="454.5" x2="616" y2="454.5" stroke="#1c1c1c" stroke-width="0.5" stroke-dasharray="6 1.5 1 1.5"/>
<rect x="503.5" y="447.5" width="10" height="15" fill="none" stroke="#1c1c1c" stroke-width="1.0"/>
<line x1="591.5" y1="447.6" x2="591.5" y2="462" stroke="#1c1c1c" stroke-width="1.0"/>
<rect x="600.5" y="430.5" width="4" height="17" fill="none" stroke="#1c1c1c" stroke-width="0.9"/>
<line x1="549.5" y1="431.5" x2="549.5" y2="473" stroke="#1c1c1c" stroke-width="1.2" stroke-dasharray="2.6 1.3"/>
<line x1="552.5" y1="431.5" x2="552.5" y2="473" stroke="#1c1c1c" stroke-width="1.2" stroke-dasharray="2.6 1.3"/>
<line x1="554.5" y1="431.5" x2="554.5" y2="473" stroke="#1c1c1c" stroke-width="1.2" stroke-dasharray="2.6 1.3"/>
<line x1="557.5" y1="431.5" x2="557.5" y2="473" stroke="#1c1c1c" stroke-width="1.2" stroke-dasharray="2.6 1.3"/>
<rect x="545.5" y="442.5" width="15" height="25" fill="none" stroke="#1c1c1c" stroke-width="0.8"/>
<rect x="545.8" y="442.5" width="14.4" height="24.5" fill="none" stroke="#fff" stroke-width="1" stroke-dasharray="0 3 1.2 0"/>
<text x="0" y="0" font-size="9.5" text-anchor="start" fill="#111" stroke="#111" stroke-width="0.15" transform="translate(568 435.6)">28</text>
<line x1="566.5" y1="435" x2="557" y2="444" stroke="#1c1c1c" stroke-width="0.7"/>
<line x1="443" y1="447.5" x2="456.3" y2="447.5" stroke="#1c1c1c" stroke-width="0.6"/>
<line x1="443" y1="462.5" x2="456.3" y2="462.5" stroke="#1c1c1c" stroke-width="0.6"/>
<line x1="447.5" y1="440" x2="447.5" y2="470" stroke="#1c1c1c" stroke-width="0.7"/>
<polygon points="447,447.6 444.95,440.1 449.05,440.1" fill="#1c1c1c"/>
<polygon points="447,462 449.05,469.5 444.95,469.5" fill="#1c1c1c"/>
<text x="0" y="0" font-size="9" text-anchor="middle" fill="#111" stroke="#111" stroke-width="0.15" transform="translate(443.2 454.5) rotate(-90)">Ø7</text>
<text x="0" y="0" font-size="9.5" text-anchor="start" fill="#111" stroke="#111" stroke-width="0.15" transform="translate(615.5 431.3)">Ø1,5</text>
<line x1="612" y1="432.5" x2="637" y2="432.5" stroke="#1c1c1c" stroke-width="0.7"/>
<text x="0" y="0" font-size="9" text-anchor="start" fill="#111" stroke="#111" stroke-width="0.15" transform="translate(614 441.6)">2 отв.</text>
<line x1="588" y1="432.5" x2="612" y2="432.5" stroke="#1c1c1c" stroke-width="0.7"/>
<polygon points="600.2,432.6 592.7,434.65 592.7,430.55" fill="#1c1c1c"/>
<polygon points="604.8,432.6 612.3,430.55 612.3,434.65" fill="#1c1c1c"/>
<line x1="561.5" y1="462" x2="561.5" y2="478" stroke="#1c1c1c" stroke-width="0.6"/>
<line x1="602.5" y1="430" x2="602.5" y2="505" stroke="#1c1c1c" stroke-width="0.6"/>
<line x1="561" y1="474.5" x2="602.5" y2="474.5" stroke="#1c1c1c" stroke-width="0.8"/>
<polygon points="561,474.3 568.5,472.25 568.5,476.35" fill="#1c1c1c"/>
<polygon points="602.5,474.3 595,476.35 595,472.25" fill="#1c1c1c"/>
<text x="0" y="0" font-size="9.5" text-anchor="middle" fill="#111" stroke="#111" stroke-width="0.15" transform="translate(581.5 472.3)">21</text>
<line x1="508.5" y1="462" x2="508.5" y2="492" stroke="#1c1c1c" stroke-width="0.6"/>
<line x1="508" y1="488.5" x2="602.5" y2="488.5" stroke="#1c1c1c" stroke-width="0.8"/>
<polygon points="508,488 515.5,485.95 515.5,490.05" fill="#1c1c1c"/>
<polygon points="602.5,488 595,490.05 595,485.95" fill="#1c1c1c"/>
<text x="0" y="0" font-size="9.5" text-anchor="middle" fill="#111" stroke="#111" stroke-width="0.15" transform="translate(557 486.8)">47*</text>
<line x1="608.5" y1="462" x2="608.5" y2="503" stroke="#1c1c1c" stroke-width="0.6"/>
<line x1="608.2" y1="488.5" x2="626" y2="488.5" stroke="#1c1c1c" stroke-width="0.7"/>
<polygon points="608.2,488 615.7,485.95 615.7,490.05" fill="#1c1c1c"/>
<text x="0" y="0" font-size="9.5" text-anchor="middle" fill="#111" stroke="#111" stroke-width="0.15" transform="translate(620.5 486.8)">3</text>
<line x1="456.5" y1="462" x2="456.5" y2="503" stroke="#1c1c1c" stroke-width="0.6"/>
<line x1="456.3" y1="499.5" x2="608.2" y2="499.5" stroke="#1c1c1c" stroke-width="0.8"/>
<polygon points="456.3,499.3 463.8,497.25 463.8,501.35" fill="#1c1c1c"/>
<polygon points="608.2,499.3 600.7,501.35 600.7,497.25" fill="#1c1c1c"/>
<text x="0" y="0" font-size="9.5" text-anchor="middle" fill="#111" stroke="#111" stroke-width="0.15" transform="translate(531 497.8)">80</text>
<circle cx="316.1" cy="516.6" r="6.6" fill="none" stroke="#1c1c1c" stroke-width="1.15"/>
<text x="0" y="0" font-size="9.6" text-anchor="middle" fill="#111" stroke="#111" stroke-width="0.15" transform="translate(316.1 520.01) scale(0.88 1)">13</text>
<rect x="318.5" y="539.5" width="41" height="92" fill="none" stroke="#1c1c1c" stroke-width="1.2"/>
<rect x="318.5" y="539.5" width="17" height="7" fill="url(#hat2)" stroke="#1c1c1c" stroke-width="0.9"/>
<rect x="341.5" y="539.5" width="18" height="7" fill="url(#hat2)" stroke="#1c1c1c" stroke-width="0.9"/>
<rect x="318.5" y="553.5" width="17" height="7" fill="url(#hat2)" stroke="#1c1c1c" stroke-width="0.9"/>
<rect x="341.5" y="553.5" width="18" height="7" fill="url(#hat2)" stroke="#1c1c1c" stroke-width="0.9"/>
<line x1="312.1" y1="550.5" x2="365.1" y2="550.5" stroke="#1c1c1c" stroke-width="0.5" stroke-dasharray="6 1.5 1 1.5"/>
<path d="M335.2,523.8 L335.2,596.5 A7.2,7.2 0 1 0 341.5,596.5 L341.5,523.8" fill="none" stroke="#1c1c1c" stroke-width="1.1"/>
<line x1="338.5" y1="520" x2="338.5" y2="612" stroke="#1c1c1c" stroke-width="0.5" stroke-dasharray="6 1.5 1 1.5"/>
<line x1="312" y1="603.5" x2="355" y2="603.5" stroke="#1c1c1c" stroke-width="0.5" stroke-dasharray="6 1.5 1 1.5"/>
<polygon points="328.5,617.7 331.9,621.1 328.5,624.5 325.1,621.1" fill="#3a3a3a" stroke="#1c1c1c" stroke-width="0.9"/>
<line x1="324.1" y1="621.5" x2="332.9" y2="621.5" stroke="#1c1c1c" stroke-width="0.7"/>
<line x1="328.5" y1="616.7" x2="328.5" y2="625.5" stroke="#1c1c1c" stroke-width="0.7"/>
<polygon points="349,617.7 352.4,621.1 349,624.5 345.6,621.1" fill="#3a3a3a" stroke="#1c1c1c" stroke-width="0.9"/>
<line x1="344.6" y1="621.5" x2="353.4" y2="621.5" stroke="#1c1c1c" stroke-width="0.7"/>
<line x1="349.5" y1="616.7" x2="349.5" y2="625.5" stroke="#1c1c1c" stroke-width="0.7"/>
<line x1="312" y1="621.5" x2="372" y2="621.5" stroke="#1c1c1c" stroke-width="0.5" stroke-dasharray="6 1.5 1 1.5"/>
<line x1="325" y1="525.5" x2="335.2" y2="525.5" stroke="#1c1c1c" stroke-width="0.7"/>
<polygon points="335.2,525 327.7,527.05 327.7,522.95" fill="#1c1c1c"/>
<line x1="341.5" y1="525.5" x2="358" y2="525.5" stroke="#1c1c1c" stroke-width="0.7"/>
<polygon points="341.5,525 349,522.95 349,527.05" fill="#1c1c1c"/>
<text x="0" y="0" font-size="9.5" text-anchor="middle" fill="#111" stroke="#111" stroke-width="0.15" transform="translate(354 523.5)">3</text>
<line x1="359.1" y1="539.5" x2="383" y2="539.5" stroke="#1c1c1c" stroke-width="0.6"/>
<line x1="359.1" y1="560.5" x2="383" y2="560.5" stroke="#1c1c1c" stroke-width="0.6"/>
<line x1="372.5" y1="530" x2="372.5" y2="548" stroke="#1c1c1c" stroke-width="0.7"/>
<polygon points="372,546.8 369.95,539.3 374.05,539.3" fill="#1c1c1c"/>
<polygon points="372,553 374.05,560.5 369.95,560.5" fill="#1c1c1c"/>
<line x1="359.1" y1="546.5" x2="376" y2="546.5" stroke="#1c1c1c" stroke-width="0.6"/>
<line x1="359.1" y1="553.5" x2="376" y2="553.5" stroke="#1c1c1c" stroke-width="0.6"/>
<text x="0" y="0" font-size="9" text-anchor="middle" fill="#111" stroke="#111" stroke-width="0.15" transform="translate(369.5 529.5) rotate(-90)">M3</text>
<line x1="380.5" y1="530" x2="380.5" y2="570" stroke="#1c1c1c" stroke-width="0.7"/>
<polygon points="380.5,539.7 378.45,532.2 382.55,532.2" fill="#1c1c1c"/>
<polygon points="380.5,560.3 382.55,567.8 378.45,567.8" fill="#1c1c1c"/>
<text x="0" y="0" font-size="9.5" text-anchor="middle" fill="#111" stroke="#111" stroke-width="0.15" transform="translate(378.8 550) rotate(-90)">5</text>
<line x1="306" y1="546.5" x2="318.1" y2="546.5" stroke="#1c1c1c" stroke-width="0.6"/>
<line x1="306" y1="553.5" x2="318.1" y2="553.5" stroke="#1c1c1c" stroke-width="0.6"/>
<line x1="307.5" y1="535" x2="307.5" y2="580" stroke="#1c1c1c" stroke-width="0.7"/>
<polygon points="307.5,546.8 305.45,539.3 309.55,539.3" fill="#1c1c1c"/>
<polygon points="307.5,553 309.55,560.5 305.45,560.5" fill="#1c1c1c"/>
<text x="0" y="0" font-size="9" text-anchor="middle" fill="#111" stroke="#111" stroke-width="0.15" transform="translate(305.8 572) rotate(-90)">Ø3,2</text>
<text x="0" y="0" font-size="9.5" text-anchor="start" fill="#111" stroke="#111" stroke-width="0.15" transform="translate(357 585.5)">Ø7</text>
<line x1="356" y1="587.5" x2="367" y2="587.5" stroke="#1c1c1c" stroke-width="0.7"/>
<polyline points="356,587.5 344,598.5" fill="none" stroke="#1c1c1c" stroke-width="0.8"/>
<polygon points="344,598.5 348.14,591.92 350.91,594.94" fill="#1c1c1c"/>
<text x="0" y="0" font-size="9.5" text-anchor="start" fill="#111" stroke="#111" stroke-width="0.15" transform="translate(375.5 598)">M3</text>
<line x1="371" y1="600.5" x2="393" y2="600.5" stroke="#1c1c1c" stroke-width="0.7"/>
<text x="0" y="0" font-size="9" text-anchor="start" fill="#111" stroke="#111" stroke-width="0.15" transform="translate(370.5 607)">2 отв.</text>
<line x1="371" y1="600" x2="341.5" y2="632" stroke="#1c1c1c" stroke-width="0.7"/>
<polygon points="352,618.5 355.65,611.63 358.63,614.44" fill="#1c1c1c"/>
<polygon points="346,626 343.14,633.23 339.86,630.77" fill="#1c1c1c"/>
<line x1="304" y1="603.5" x2="330" y2="603.5" stroke="#1c1c1c" stroke-width="0.6"/>
<line x1="304" y1="631.5" x2="318.1" y2="631.5" stroke="#1c1c1c" stroke-width="0.6"/>
<line x1="306.5" y1="603" x2="306.5" y2="631.2" stroke="#1c1c1c" stroke-width="0.8"/>
<polygon points="306.5,603 308.55,610.5 304.45,610.5" fill="#1c1c1c"/>
<polygon points="306.5,631.2 304.45,623.7 308.55,623.7" fill="#1c1c1c"/>
<text x="0" y="0" font-size="9.5" text-anchor="middle" fill="#111" stroke="#111" stroke-width="0.15" transform="translate(305 616.5) rotate(-90)">14</text>
<line x1="349" y1="621.5" x2="370" y2="621.5" stroke="#1c1c1c" stroke-width="0.6"/>
<line x1="366.5" y1="612" x2="366.5" y2="640" stroke="#1c1c1c" stroke-width="0.7"/>
<polygon points="366,621.1 363.95,613.6 368.05,613.6" fill="#1c1c1c"/>
<polygon points="366,631.2 368.05,638.7 363.95,638.7" fill="#1c1c1c"/>
<text x="0" y="0" font-size="9.5" text-anchor="middle" fill="#111" stroke="#111" stroke-width="0.15" transform="translate(364.5 626) rotate(-90)">5</text>
<line x1="328.5" y1="624" x2="328.5" y2="648" stroke="#1c1c1c" stroke-width="0.6"/>
<line x1="349.5" y1="624" x2="349.5" y2="648" stroke="#1c1c1c" stroke-width="0.6"/>
<line x1="318.5" y1="631.2" x2="318.5" y2="661" stroke="#1c1c1c" stroke-width="0.6"/>
<line x1="359.5" y1="631.2" x2="359.5" y2="661" stroke="#1c1c1c" stroke-width="0.6"/>
<line x1="322" y1="645.5" x2="368" y2="645.5" stroke="#1c1c1c" stroke-width="0.7"/>
<polygon points="328.5,645.3 336,643.25 336,647.35" fill="#1c1c1c"/>
<polygon points="349,645.3 341.5,647.35 341.5,643.25" fill="#1c1c1c"/>
<polygon points="359.1,645.3 366.6,643.25 366.6,647.35" fill="#1c1c1c"/>
<text x="0" y="0" font-size="9.5" text-anchor="middle" fill="#111" stroke="#111" stroke-width="0.15" transform="translate(338.5 642.2)">10</text>
<text x="0" y="0" font-size="9.5" text-anchor="middle" fill="#111" stroke="#111" stroke-width="0.15" transform="translate(354 642.2)">5</text>
<line x1="318.1" y1="657.5" x2="359.1" y2="657.5" stroke="#1c1c1c" stroke-width="0.8"/>
<polygon points="318.1,657.8 325.6,655.75 325.6,659.85" fill="#1c1c1c"/>
<polygon points="359.1,657.8 351.6,659.85 351.6,655.75" fill="#1c1c1c"/>
<text x="0" y="0" font-size="9.5" text-anchor="middle" fill="#111" stroke="#111" stroke-width="0.15" transform="translate(339 655)">20</text>
<rect x="398.5" y="539.5" width="12" height="92" fill="none" stroke="#1c1c1c" stroke-width="1.2"/>
<circle cx="404.4" cy="550" r="3.3" fill="none" stroke="#1c1c1c" stroke-width="1.0"/>
<line x1="399.6" y1="550.5" x2="409.2" y2="550.5" stroke="#1c1c1c" stroke-width="0.5"/>
<line x1="404.5" y1="545.2" x2="404.5" y2="554.8" stroke="#1c1c1c" stroke-width="0.5"/>
<line x1="398" y1="595.5" x2="410.6" y2="595.5" stroke="#1c1c1c" stroke-width="0.8" stroke-dasharray="3 1.5"/>
<line x1="398" y1="610.5" x2="410.6" y2="610.5" stroke="#1c1c1c" stroke-width="0.8" stroke-dasharray="3 1.5"/>
<line x1="398" y1="622.5" x2="410.6" y2="622.5" stroke="#1c1c1c" stroke-width="0.8" stroke-dasharray="3 1.5"/>
<line x1="395" y1="603.5" x2="414" y2="603.5" stroke="#1c1c1c" stroke-width="0.5" stroke-dasharray="6 1.5 1 1.5"/>
<line x1="398.5" y1="520" x2="398.5" y2="539.7" stroke="#1c1c1c" stroke-width="0.6"/>
<line x1="404.5" y1="520" x2="404.5" y2="546" stroke="#1c1c1c" stroke-width="0.6"/>
<line x1="392" y1="525.5" x2="398" y2="525.5" stroke="#1c1c1c" stroke-width="0.7"/>
<polygon points="398,525 390.5,527.05 390.5,522.95" fill="#1c1c1c"/>
<line x1="404.4" y1="525.5" x2="418" y2="525.5" stroke="#1c1c1c" stroke-width="0.7"/>
<polygon points="404.4,525 411.9,522.95 411.9,527.05" fill="#1c1c1c"/>
<text x="0" y="0" font-size="9.5" text-anchor="middle" fill="#111" stroke="#111" stroke-width="0.15" transform="translate(417 523.8)">3</text>
<line x1="410.6" y1="539.5" x2="426" y2="539.5" stroke="#1c1c1c" stroke-width="0.6"/>
<line x1="410.6" y1="631.5" x2="426" y2="631.5" stroke="#1c1c1c" stroke-width="0.6"/>
<line x1="422.5" y1="539.7" x2="422.5" y2="631.2" stroke="#1c1c1c" stroke-width="0.8"/>
<polygon points="422.4,539.7 424.45,547.2 420.35,547.2" fill="#1c1c1c"/>
<polygon points="422.4,631.2 420.35,623.7 424.45,623.7" fill="#1c1c1c"/>
<text x="0" y="0" font-size="9.5" text-anchor="middle" fill="#111" stroke="#111" stroke-width="0.15" transform="translate(420.8 586) rotate(-90)">45</text>
<line x1="398.5" y1="631.2" x2="398.5" y2="648" stroke="#1c1c1c" stroke-width="0.6"/>
<line x1="410.5" y1="631.2" x2="410.5" y2="648" stroke="#1c1c1c" stroke-width="0.6"/>
<line x1="392" y1="645.5" x2="418" y2="645.5" stroke="#1c1c1c" stroke-width="0.7"/>
<polygon points="398,645.3 390.5,647.35 390.5,643.25" fill="#1c1c1c"/>
<polygon points="410.6,645.3 418.1,643.25 418.1,647.35" fill="#1c1c1c"/>
<text x="0" y="0" font-size="9.5" text-anchor="middle" fill="#111" stroke="#111" stroke-width="0.15" transform="translate(403.6 642.2)">6</text>
<circle cx="458.9" cy="516.7" r="6.6" fill="none" stroke="#1c1c1c" stroke-width="1.15"/>
<text x="0" y="0" font-size="9.6" text-anchor="middle" fill="#111" stroke="#111" stroke-width="0.15" transform="translate(458.9 520.11) scale(0.88 1)">14</text>
<rect x="459.5" y="539.5" width="40" height="92" fill="none" stroke="#1c1c1c" stroke-width="1.2"/>
<rect x="459.5" y="539.5" width="17" height="7" fill="url(#hat2)" stroke="#1c1c1c" stroke-width="0.9"/>
<rect x="482.5" y="539.5" width="17" height="7" fill="url(#hat2)" stroke="#1c1c1c" stroke-width="0.9"/>
<rect x="459.5" y="553.5" width="17" height="7" fill="url(#hat2)" stroke="#1c1c1c" stroke-width="0.9"/>
<rect x="482.5" y="553.5" width="17" height="7" fill="url(#hat2)" stroke="#1c1c1c" stroke-width="0.9"/>
<line x1="453" y1="550.5" x2="505.2" y2="550.5" stroke="#1c1c1c" stroke-width="0.5" stroke-dasharray="6 1.5 1 1.5"/>
<path d="M476.6,522.6 L476.6,596.5 A7.4,7.4 0 1 0 482.4,596.5 L482.4,522.6" fill="none" stroke="#1c1c1c" stroke-width="1.1"/>
<line x1="479.5" y1="520" x2="479.5" y2="645" stroke="#1c1c1c" stroke-width="0.5" stroke-dasharray="6 1.5 1 1.5"/>
<line x1="455" y1="603.5" x2="512" y2="603.5" stroke="#1c1c1c" stroke-width="0.5" stroke-dasharray="6 1.5 1 1.5"/>
<line x1="459" y1="578.5" x2="476.6" y2="578.5" stroke="#1c1c1c" stroke-width="0.9" stroke-dasharray="3 1.5"/>
<line x1="459" y1="583.5" x2="476.6" y2="583.5" stroke="#1c1c1c" stroke-width="0.9" stroke-dasharray="3 1.5"/>
<line x1="459" y1="618.5" x2="480" y2="618.5" stroke="#1c1c1c" stroke-width="0.9" stroke-dasharray="3 1.5"/>
<line x1="459" y1="624.5" x2="480" y2="624.5" stroke="#1c1c1c" stroke-width="0.9" stroke-dasharray="3 1.5"/>
<line x1="459" y1="621.5" x2="483" y2="621.5" stroke="#1c1c1c" stroke-width="0.5" stroke-dasharray="6 1.5 1 1.5"/>
<line x1="466" y1="525.5" x2="476.6" y2="525.5" stroke="#1c1c1c" stroke-width="0.7"/>
<polygon points="476.6,525 469.1,527.05 469.1,522.95" fill="#1c1c1c"/>
<line x1="482.4" y1="525.5" x2="500" y2="525.5" stroke="#1c1c1c" stroke-width="0.7"/>
<polygon points="482.4,525 489.9,522.95 489.9,527.05" fill="#1c1c1c"/>
<text x="0" y="0" font-size="9.5" text-anchor="middle" fill="#111" stroke="#111" stroke-width="0.15" transform="translate(496.5 523.8)">3</text>
<line x1="424" y1="539.5" x2="459" y2="539.5" stroke="#1c1c1c" stroke-width="0.6"/>
<line x1="424" y1="546.5" x2="459" y2="546.5" stroke="#1c1c1c" stroke-width="0.6"/>
<line x1="424" y1="580.5" x2="476" y2="580.5" stroke="#1c1c1c" stroke-width="0.6"/>
<line x1="424" y1="621.5" x2="459" y2="621.5" stroke="#1c1c1c" stroke-width="0.6"/>
<line x1="424" y1="631.5" x2="459" y2="631.5" stroke="#1c1c1c" stroke-width="0.6"/>
<line x1="434.5" y1="530" x2="434.5" y2="640" stroke="#1c1c1c" stroke-width="0.7"/>
<polygon points="434.5,539.7 432.45,532.2 436.55,532.2" fill="#1c1c1c"/>
<polygon points="434.5,546.8 436.55,554.3 432.45,554.3" fill="#1c1c1c"/>
<polygon points="434.5,580.5 436.55,588 432.45,588" fill="#1c1c1c"/>
<polygon points="434.5,621 432.45,613.5 436.55,613.5" fill="#1c1c1c"/>
<polygon points="434.5,631.2 436.55,638.7 432.45,638.7" fill="#1c1c1c"/>
<text x="0" y="0" font-size="9.5" text-anchor="middle" fill="#111" stroke="#111" stroke-width="0.15" transform="translate(432.8 545) rotate(-90)">5</text>
<text x="0" y="0" font-size="9.5" text-anchor="middle" fill="#111" stroke="#111" stroke-width="0.15" transform="translate(432.8 600.5) rotate(-90)">20</text>
<text x="0" y="0" font-size="9.5" text-anchor="middle" fill="#111" stroke="#111" stroke-width="0.15" transform="translate(432.8 626) rotate(-90)">5</text>
<line x1="444.5" y1="546.5" x2="459" y2="546.5" stroke="#1c1c1c" stroke-width="0.6"/>
<line x1="444.5" y1="553.5" x2="459" y2="553.5" stroke="#1c1c1c" stroke-width="0.6"/>
<line x1="446.5" y1="540" x2="446.5" y2="562" stroke="#1c1c1c" stroke-width="0.7"/>
<polygon points="446.5,546.8 444.45,539.3 448.55,539.3" fill="#1c1c1c"/>
<polygon points="446.5,553 448.55,560.5 444.45,560.5" fill="#1c1c1c"/>
<text x="0" y="0" font-size="9" text-anchor="middle" fill="#111" stroke="#111" stroke-width="0.15" transform="translate(445 566) rotate(-90)">M3</text>
<text x="0" y="0" font-size="9" text-anchor="middle" fill="#111" stroke="#111" stroke-width="0.15" transform="translate(454 569.5) rotate(-90)">3 отв.</text>
<line x1="447.5" y1="560" x2="447.5" y2="580" stroke="#1c1c1c" stroke-width="0.7"/>
<line x1="499.2" y1="546.5" x2="512" y2="546.5" stroke="#1c1c1c" stroke-width="0.6"/>
<line x1="499.2" y1="553.5" x2="512" y2="553.5" stroke="#1c1c1c" stroke-width="0.6"/>
<line x1="509.5" y1="535" x2="509.5" y2="580" stroke="#1c1c1c" stroke-width="0.7"/>
<polygon points="509.8,546.8 507.75,539.3 511.85,539.3" fill="#1c1c1c"/>
<polygon points="509.8,553 511.85,560.5 507.75,560.5" fill="#1c1c1c"/>
<text x="0" y="0" font-size="9" text-anchor="middle" fill="#111" stroke="#111" stroke-width="0.15" transform="translate(508.2 572.5) rotate(-90)">Ø3,2</text>
<text x="0" y="0" font-size="9.5" text-anchor="start" fill="#111" stroke="#111" stroke-width="0.15" transform="translate(493 614)">Ø7</text>
<line x1="492" y1="616.5" x2="504" y2="616.5" stroke="#1c1c1c" stroke-width="0.7"/>
<polyline points="492,616 485,608.5" fill="none" stroke="#1c1c1c" stroke-width="0.8"/>
<polygon points="485,608.5 491.62,612.58 488.62,615.38" fill="#1c1c1c"/>
<line x1="468" y1="596" x2="473.5" y2="600.5" stroke="#1c1c1c" stroke-width="0.7"/>
<polygon points="473.5,600.5 466.4,597.34 468.99,594.16" fill="#1c1c1c"/>
<line x1="499.2" y1="631.5" x2="518" y2="631.5" stroke="#1c1c1c" stroke-width="0.6"/>
<line x1="514.5" y1="603" x2="514.5" y2="631.2" stroke="#1c1c1c" stroke-width="0.8"/>
<polygon points="514.5,603 516.55,610.5 512.45,610.5" fill="#1c1c1c"/>
<polygon points="514.5,631.2 512.45,623.7 516.55,623.7" fill="#1c1c1c"/>
<text x="0" y="0" font-size="9.5" text-anchor="middle" fill="#111" stroke="#111" stroke-width="0.15" transform="translate(512.8 616.5) rotate(-90)">14</text>
<line x1="459.5" y1="631.2" x2="459.5" y2="661" stroke="#1c1c1c" stroke-width="0.6"/>
<line x1="499.5" y1="631.2" x2="499.5" y2="661" stroke="#1c1c1c" stroke-width="0.6"/>
<line x1="479.5" y1="631.2" x2="479.5" y2="648" stroke="#1c1c1c" stroke-width="0.6"/>
<line x1="450" y1="645.5" x2="487" y2="645.5" stroke="#1c1c1c" stroke-width="0.7"/>
<polygon points="459,645.3 451.5,647.35 451.5,643.25" fill="#1c1c1c"/>
<polygon points="479.5,645.3 487,643.25 487,647.35" fill="#1c1c1c"/>
<text x="0" y="0" font-size="9.5" text-anchor="middle" fill="#111" stroke="#111" stroke-width="0.15" transform="translate(469 642.2)">10</text>
<line x1="459" y1="657.5" x2="499.2" y2="657.5" stroke="#1c1c1c" stroke-width="0.8"/>
<polygon points="459,657.8 466.5,655.75 466.5,659.85" fill="#1c1c1c"/>
<polygon points="499.2,657.8 491.7,659.85 491.7,655.75" fill="#1c1c1c"/>
<text x="0" y="0" font-size="9.5" text-anchor="middle" fill="#111" stroke="#111" stroke-width="0.15" transform="translate(480 655)">20</text>
<rect x="527.5" y="539.5" width="13" height="92" fill="none" stroke="#1c1c1c" stroke-width="1.2"/>
<polygon points="533.8,546.5 537.3,550 533.8,553.5 530.3,550" fill="#3a3a3a" stroke="#1c1c1c" stroke-width="0.9"/>
<line x1="529.3" y1="550.5" x2="538.3" y2="550.5" stroke="#1c1c1c" stroke-width="0.7"/>
<line x1="533.5" y1="545.5" x2="533.5" y2="554.5" stroke="#1c1c1c" stroke-width="0.7"/>
<polygon points="533.8,576.9 537.3,580.4 533.8,583.9 530.3,580.4" fill="#3a3a3a" stroke="#1c1c1c" stroke-width="0.9"/>
<line x1="529.3" y1="580.5" x2="538.3" y2="580.5" stroke="#1c1c1c" stroke-width="0.7"/>
<line x1="533.5" y1="575.9" x2="533.5" y2="584.9" stroke="#1c1c1c" stroke-width="0.7"/>
<polygon points="533.8,617.1 537.3,620.6 533.8,624.1 530.3,620.6" fill="#3a3a3a" stroke="#1c1c1c" stroke-width="0.9"/>
<line x1="529.3" y1="620.5" x2="538.3" y2="620.5" stroke="#1c1c1c" stroke-width="0.7"/>
<line x1="533.5" y1="616.1" x2="533.5" y2="625.1" stroke="#1c1c1c" stroke-width="0.7"/>
<line x1="527.6" y1="595.5" x2="540" y2="595.5" stroke="#1c1c1c" stroke-width="0.8" stroke-dasharray="3 1.5"/>
<line x1="527.6" y1="610.5" x2="540" y2="610.5" stroke="#1c1c1c" stroke-width="0.8" stroke-dasharray="3 1.5"/>
<line x1="524" y1="603.5" x2="544" y2="603.5" stroke="#1c1c1c" stroke-width="0.5" stroke-dasharray="6 1.5 1 1.5"/>
<line x1="527.5" y1="520" x2="527.5" y2="539.7" stroke="#1c1c1c" stroke-width="0.6"/>
<line x1="540.5" y1="520" x2="540.5" y2="539.7" stroke="#1c1c1c" stroke-width="0.6"/>
<line x1="521" y1="525.5" x2="547" y2="525.5" stroke="#1c1c1c" stroke-width="0.7"/>
<polygon points="527.6,525 520.1,527.05 520.1,522.95" fill="#1c1c1c"/>
<polygon points="540,525 547.5,522.95 547.5,527.05" fill="#1c1c1c"/>
<text x="0" y="0" font-size="9.5" text-anchor="middle" fill="#111" stroke="#111" stroke-width="0.15" transform="translate(533.5 523.8)">6</text>
<line x1="540" y1="539.5" x2="556" y2="539.5" stroke="#1c1c1c" stroke-width="0.6"/>
<line x1="540" y1="631.5" x2="556" y2="631.5" stroke="#1c1c1c" stroke-width="0.6"/>
<line x1="552.5" y1="539.7" x2="552.5" y2="631.2" stroke="#1c1c1c" stroke-width="0.8"/>
<polygon points="552.5,539.7 554.55,547.2 550.45,547.2" fill="#1c1c1c"/>
<polygon points="552.5,631.2 550.45,623.7 554.55,623.7" fill="#1c1c1c"/>
<text x="0" y="0" font-size="9.5" text-anchor="middle" fill="#111" stroke="#111" stroke-width="0.15" transform="translate(550.8 586) rotate(-90)">45</text>
<line x1="531.5" y1="631.2" x2="531.5" y2="648" stroke="#1c1c1c" stroke-width="0.6"/>
<line x1="536.5" y1="631.2" x2="536.5" y2="648" stroke="#1c1c1c" stroke-width="0.6"/>
<line x1="523" y1="645.5" x2="550" y2="645.5" stroke="#1c1c1c" stroke-width="0.7"/>
<polygon points="531,645.3 523.5,647.35 523.5,643.25" fill="#1c1c1c"/>
<polygon points="536,645.3 543.5,643.25 543.5,647.35" fill="#1c1c1c"/>
<text x="0" y="0" font-size="9.5" text-anchor="middle" fill="#111" stroke="#111" stroke-width="0.15" transform="translate(546.5 642.2)">3</text>
<circle cx="566.1" cy="516.6" r="6.6" fill="none" stroke="#1c1c1c" stroke-width="1.15"/>
<text x="0" y="0" font-size="9.6" text-anchor="middle" fill="#111" stroke="#111" stroke-width="0.15" transform="translate(566.1 520.01) scale(0.88 1)">17</text>
<path d="M575.7,631.4 L575.7,539.8 L594.9,539.8 L595.6,552.6 L588.3,552.6 L588.3,631.4 Z" fill="none" stroke="#1c1c1c" stroke-width="1.2"/>
<path d="M597.5,539.8 L618.4,539.8 L618.4,552.6 L598.2,552.6 Z" fill="none" stroke="#1c1c1c" stroke-width="1.2"/>
<line x1="575.5" y1="522" x2="575.5" y2="539.7" stroke="#1c1c1c" stroke-width="0.6"/>
<line x1="618.5" y1="522" x2="618.5" y2="539.7" stroke="#1c1c1c" stroke-width="0.6"/>
<line x1="575.7" y1="525.5" x2="618.5" y2="525.5" stroke="#1c1c1c" stroke-width="0.8"/>
<polygon points="575.7,525 583.2,522.95 583.2,527.05" fill="#1c1c1c"/>
<polygon points="618.5,525 611,527.05 611,522.95" fill="#1c1c1c"/>
<text x="0" y="0" font-size="9.5" text-anchor="middle" fill="#111" stroke="#111" stroke-width="0.15" transform="translate(596 523.5)">24</text>
<text x="0" y="0" font-size="9.5" text-anchor="start" fill="#111" stroke="#111" stroke-width="0.15" transform="translate(589.5 535)">s0,5</text>
<line x1="589" y1="536.5" x2="606" y2="536.5" stroke="#1c1c1c" stroke-width="0.7"/>
<polyline points="589,536.8 580.5,546" fill="none" stroke="#1c1c1c" stroke-width="0.8"/>
<circle cx="580.5" cy="546" r="1.1" fill="#1c1c1c"/>
<line x1="618.5" y1="552.5" x2="621" y2="552.5" stroke="#1c1c1c" stroke-width="0.6"/>
<line x1="614.5" y1="530" x2="614.5" y2="560" stroke="#1c1c1c" stroke-width="0.7"/>
<polygon points="614.5,539.8 612.45,532.3 616.55,532.3" fill="#1c1c1c"/>
<polygon points="614.5,552.9 616.55,560.4 612.45,560.4" fill="#1c1c1c"/>
<text x="0" y="0" font-size="9.5" text-anchor="middle" fill="#111" stroke="#111" stroke-width="0.15" transform="translate(611.5 545.5) rotate(-90)">7</text>
<circle cx="582" cy="580.5" r="3.3" fill="none" stroke="#1c1c1c" stroke-width="1.1"/>
<line x1="576.2" y1="580.5" x2="587.8" y2="580.5" stroke="#1c1c1c" stroke-width="0.5"/>
<line x1="582.5" y1="574.7" x2="582.5" y2="586.3" stroke="#1c1c1c" stroke-width="0.5"/>
<circle cx="582" cy="621.3" r="3.3" fill="none" stroke="#1c1c1c" stroke-width="1.1"/>
<line x1="576.2" y1="621.5" x2="587.8" y2="621.5" stroke="#1c1c1c" stroke-width="0.5"/>
<line x1="582.5" y1="615.5" x2="582.5" y2="627.1" stroke="#1c1c1c" stroke-width="0.5"/>
<text x="0" y="0" font-size="9.5" text-anchor="start" fill="#111" stroke="#111" stroke-width="0.15" transform="translate(593 568.3)">Ø3,2</text>
<line x1="591" y1="570.5" x2="613" y2="570.5" stroke="#1c1c1c" stroke-width="0.7"/>
<text x="0" y="0" font-size="9" text-anchor="start" fill="#111" stroke="#111" stroke-width="0.15" transform="translate(593 578.3)">2 отв.</text>
<line x1="591" y1="570.2" x2="565" y2="598" stroke="#1c1c1c" stroke-width="0.7"/>
<polygon points="585.5,576 589.17,569.15 592.15,571.97" fill="#1c1c1c"/>
<polygon points="578.5,584 574.65,590.75 571.75,587.85" fill="#1c1c1c"/>
<line x1="556" y1="539.5" x2="575.7" y2="539.5" stroke="#1c1c1c" stroke-width="0.6"/>
<line x1="556" y1="631.5" x2="575.7" y2="631.5" stroke="#1c1c1c" stroke-width="0.6"/>
<line x1="564.5" y1="539.7" x2="564.5" y2="631.2" stroke="#1c1c1c" stroke-width="0.8"/>
<polygon points="564.3,539.7 566.35,547.2 562.25,547.2" fill="#1c1c1c"/>
<polygon points="564.3,631.2 562.25,623.7 566.35,623.7" fill="#1c1c1c"/>
<text x="0" y="0" font-size="9.5" text-anchor="middle" fill="#111" stroke="#111" stroke-width="0.15" transform="translate(562.6 585) rotate(-90)">45</text>
<line x1="567" y1="608.5" x2="575.7" y2="608.5" stroke="#1c1c1c" stroke-width="0.7"/>
<polygon points="575.7,608.7 568.2,610.75 568.2,606.65" fill="#1c1c1c"/>
<line x1="582" y1="608.5" x2="602" y2="608.5" stroke="#1c1c1c" stroke-width="0.7"/>
<polygon points="582,608.7 589.5,606.65 589.5,610.75" fill="#1c1c1c"/>
<text x="0" y="0" font-size="9.5" text-anchor="middle" fill="#111" stroke="#111" stroke-width="0.15" transform="translate(582 606.5)">7</text>
<line x1="584" y1="580.5" x2="605" y2="580.5" stroke="#1c1c1c" stroke-width="0.6"/>
<line x1="584" y1="621.5" x2="605" y2="621.5" stroke="#1c1c1c" stroke-width="0.6"/>
<line x1="588.3" y1="631.5" x2="605" y2="631.5" stroke="#1c1c1c" stroke-width="0.6"/>
<line x1="600.5" y1="583" x2="600.5" y2="645" stroke="#1c1c1c" stroke-width="0.7"/>
<polygon points="600.3,580.5 602.35,588 598.25,588" fill="#1c1c1c"/>
<polygon points="600.3,621.3 598.25,613.8 602.35,613.8" fill="#1c1c1c"/>
<polygon points="600.3,631.2 602.35,638.7 598.25,638.7" fill="#1c1c1c"/>
<text x="0" y="0" font-size="9.5" text-anchor="middle" fill="#111" stroke="#111" stroke-width="0.15" transform="translate(598.5 600.5) rotate(-90)">20</text>
<text x="0" y="0" font-size="9.5" text-anchor="middle" fill="#111" stroke="#111" stroke-width="0.15" transform="translate(598.5 626) rotate(-90)">5</text>
<line x1="575.5" y1="631.2" x2="575.5" y2="650" stroke="#1c1c1c" stroke-width="0.6"/>
<line x1="582.5" y1="624" x2="582.5" y2="650" stroke="#1c1c1c" stroke-width="0.6"/>
<line x1="567" y1="645.5" x2="600" y2="645.5" stroke="#1c1c1c" stroke-width="0.7"/>
<polygon points="575.7,645.5 568.2,647.55 568.2,643.45" fill="#1c1c1c"/>
<polygon points="582,645.5 589.5,643.45 589.5,647.55" fill="#1c1c1c"/>
<text x="0" y="0" font-size="9.5" text-anchor="middle" fill="#111" stroke="#111" stroke-width="0.15" transform="translate(610.5 644.3)">3,5</text>
<line x1="600" y1="645.5" x2="618" y2="645.5" stroke="#1c1c1c" stroke-width="0.7"/>
<circle cx="657.4" cy="516.6" r="6.6" fill="none" stroke="#1c1c1c" stroke-width="1.15"/>
<text x="0" y="0" font-size="9.6" text-anchor="middle" fill="#111" stroke="#111" stroke-width="0.15" transform="translate(657.4 520.01) scale(0.88 1)">16</text>
<rect x="641.5" y="539.5" width="12" height="92" fill="none" stroke="#1c1c1c" stroke-width="1.2"/>
<line x1="641" y1="558.5" x2="653.7" y2="558.5" stroke="#1c1c1c" stroke-width="2.0"/>
<circle cx="647.4" cy="580.5" r="3.3" fill="none" stroke="#1c1c1c" stroke-width="1.1"/>
<line x1="641.6" y1="580.5" x2="653.2" y2="580.5" stroke="#1c1c1c" stroke-width="0.5"/>
<line x1="647.5" y1="574.7" x2="647.5" y2="586.3" stroke="#1c1c1c" stroke-width="0.5"/>
<circle cx="647.4" cy="621.3" r="3.3" fill="none" stroke="#1c1c1c" stroke-width="1.1"/>
<line x1="641.6" y1="621.5" x2="653.2" y2="621.5" stroke="#1c1c1c" stroke-width="0.5"/>
<line x1="647.5" y1="615.5" x2="647.5" y2="627.1" stroke="#1c1c1c" stroke-width="0.5"/>
<text x="0" y="0" font-size="9.5" text-anchor="start" fill="#111" stroke="#111" stroke-width="0.15" transform="translate(658.5 568.3)">Ø3,2</text>
<line x1="656.5" y1="570.5" x2="678" y2="570.5" stroke="#1c1c1c" stroke-width="0.7"/>
<text x="0" y="0" font-size="9" text-anchor="start" fill="#111" stroke="#111" stroke-width="0.15" transform="translate(658.5 578.3)">2 отв.</text>
<line x1="656.5" y1="570.2" x2="633" y2="596" stroke="#1c1c1c" stroke-width="0.7"/>
<polygon points="651.5,575.8 654.97,568.84 658.02,571.57" fill="#1c1c1c"/>
<polygon points="643.5,584.5 639.94,591.41 636.92,588.64" fill="#1c1c1c"/>
<line x1="621" y1="539.5" x2="641" y2="539.5" stroke="#1c1c1c" stroke-width="0.6"/>
<line x1="621" y1="631.5" x2="641" y2="631.5" stroke="#1c1c1c" stroke-width="0.6"/>
<line x1="630.5" y1="539.7" x2="630.5" y2="631.2" stroke="#1c1c1c" stroke-width="0.8"/>
<polygon points="630,539.7 632.05,547.2 627.95,547.2" fill="#1c1c1c"/>
<polygon points="630,631.2 627.95,623.7 632.05,623.7" fill="#1c1c1c"/>
<text x="0" y="0" font-size="9.5" text-anchor="middle" fill="#111" stroke="#111" stroke-width="0.15" transform="translate(628.2 585) rotate(-90)">45</text>
<line x1="632" y1="608.5" x2="641" y2="608.5" stroke="#1c1c1c" stroke-width="0.7"/>
<polygon points="641,608.7 633.5,610.75 633.5,606.65" fill="#1c1c1c"/>
<line x1="647.4" y1="608.5" x2="667" y2="608.5" stroke="#1c1c1c" stroke-width="0.7"/>
<polygon points="647.4,608.7 654.9,606.65 654.9,610.75" fill="#1c1c1c"/>
<text x="0" y="0" font-size="9.5" text-anchor="middle" fill="#111" stroke="#111" stroke-width="0.15" transform="translate(647.5 606.5)">7</text>
<line x1="650" y1="580.5" x2="670" y2="580.5" stroke="#1c1c1c" stroke-width="0.6"/>
<line x1="650" y1="621.5" x2="670" y2="621.5" stroke="#1c1c1c" stroke-width="0.6"/>
<line x1="653.7" y1="631.5" x2="670" y2="631.5" stroke="#1c1c1c" stroke-width="0.6"/>
<line x1="665.5" y1="583" x2="665.5" y2="645" stroke="#1c1c1c" stroke-width="0.7"/>
<polygon points="665.7,580.5 667.75,588 663.65,588" fill="#1c1c1c"/>
<polygon points="665.7,621.3 663.65,613.8 667.75,613.8" fill="#1c1c1c"/>
<polygon points="665.7,631.2 667.75,638.7 663.65,638.7" fill="#1c1c1c"/>
<text x="0" y="0" font-size="9.5" text-anchor="middle" fill="#111" stroke="#111" stroke-width="0.15" transform="translate(664 600.5) rotate(-90)">20</text>
<text x="0" y="0" font-size="9.5" text-anchor="middle" fill="#111" stroke="#111" stroke-width="0.15" transform="translate(664 626) rotate(-90)">5</text>
<line x1="641.5" y1="631.2" x2="641.5" y2="650" stroke="#1c1c1c" stroke-width="0.6"/>
<line x1="647.5" y1="624" x2="647.5" y2="650" stroke="#1c1c1c" stroke-width="0.6"/>
<line x1="632" y1="645.5" x2="668" y2="645.5" stroke="#1c1c1c" stroke-width="0.7"/>
<polygon points="641,645.5 633.5,647.55 633.5,643.45" fill="#1c1c1c"/>
<polygon points="647.4,645.5 654.9,643.45 654.9,647.55" fill="#1c1c1c"/>
<text x="0" y="0" font-size="9.5" text-anchor="middle" fill="#111" stroke="#111" stroke-width="0.15" transform="translate(676 644.3)">3,5</text>
<line x1="665" y1="645.5" x2="684" y2="645.5" stroke="#1c1c1c" stroke-width="0.7"/>
<rect x="684.5" y="539.5" width="3" height="92" fill="#6a6a6a" stroke="#1c1c1c" stroke-width="1.0"/>
<line x1="666" y1="539.5" x2="688" y2="539.5" stroke="#1c1c1c" stroke-width="0.7"/>
<line x1="666" y1="556.5" x2="688" y2="556.5" stroke="#1c1c1c" stroke-width="0.7"/>
<line x1="668.5" y1="539.7" x2="668.5" y2="556.4" stroke="#1c1c1c" stroke-width="0.7"/>
<polygon points="668.3,540 670.35,547.5 666.25,547.5" fill="#1c1c1c"/>
<polygon points="668.3,556.1 666.25,548.6 670.35,548.6" fill="#1c1c1c"/>
<text x="0" y="0" font-size="9" text-anchor="middle" fill="#111" stroke="#111" stroke-width="0.15" transform="translate(663.8 548.2) rotate(-90)">9</text>
<text x="0" y="0" font-size="9.5" text-anchor="middle" fill="#111" stroke="#111" stroke-width="0.15" transform="translate(677 549.8)">0,6</text>
<line x1="672" y1="551.5" x2="684.5" y2="551.5" stroke="#1c1c1c" stroke-width="0.7"/>
<polygon points="684.5,551.4 677,553.45 677,549.35" fill="#1c1c1c"/>
<line x1="687.8" y1="551.5" x2="698" y2="551.5" stroke="#1c1c1c" stroke-width="0.7"/>
<polygon points="687.8,551.4 695.3,549.35 695.3,553.45" fill="#1c1c1c"/>
<text x="0" y="0" font-size="9.5" text-anchor="middle" fill="#111" stroke="#111" stroke-width="0.15" transform="translate(677 618.5)">0,5</text>
<line x1="670" y1="620.5" x2="684.5" y2="620.5" stroke="#1c1c1c" stroke-width="0.7"/>
<polygon points="684.5,620.6 677,622.65 677,618.55" fill="#1c1c1c"/>
<line x1="687.8" y1="620.5" x2="698" y2="620.5" stroke="#1c1c1c" stroke-width="0.7"/>
<polygon points="687.8,620.6 695.3,618.55 695.3,622.65" fill="#1c1c1c"/>
</svg>
</body></html>
